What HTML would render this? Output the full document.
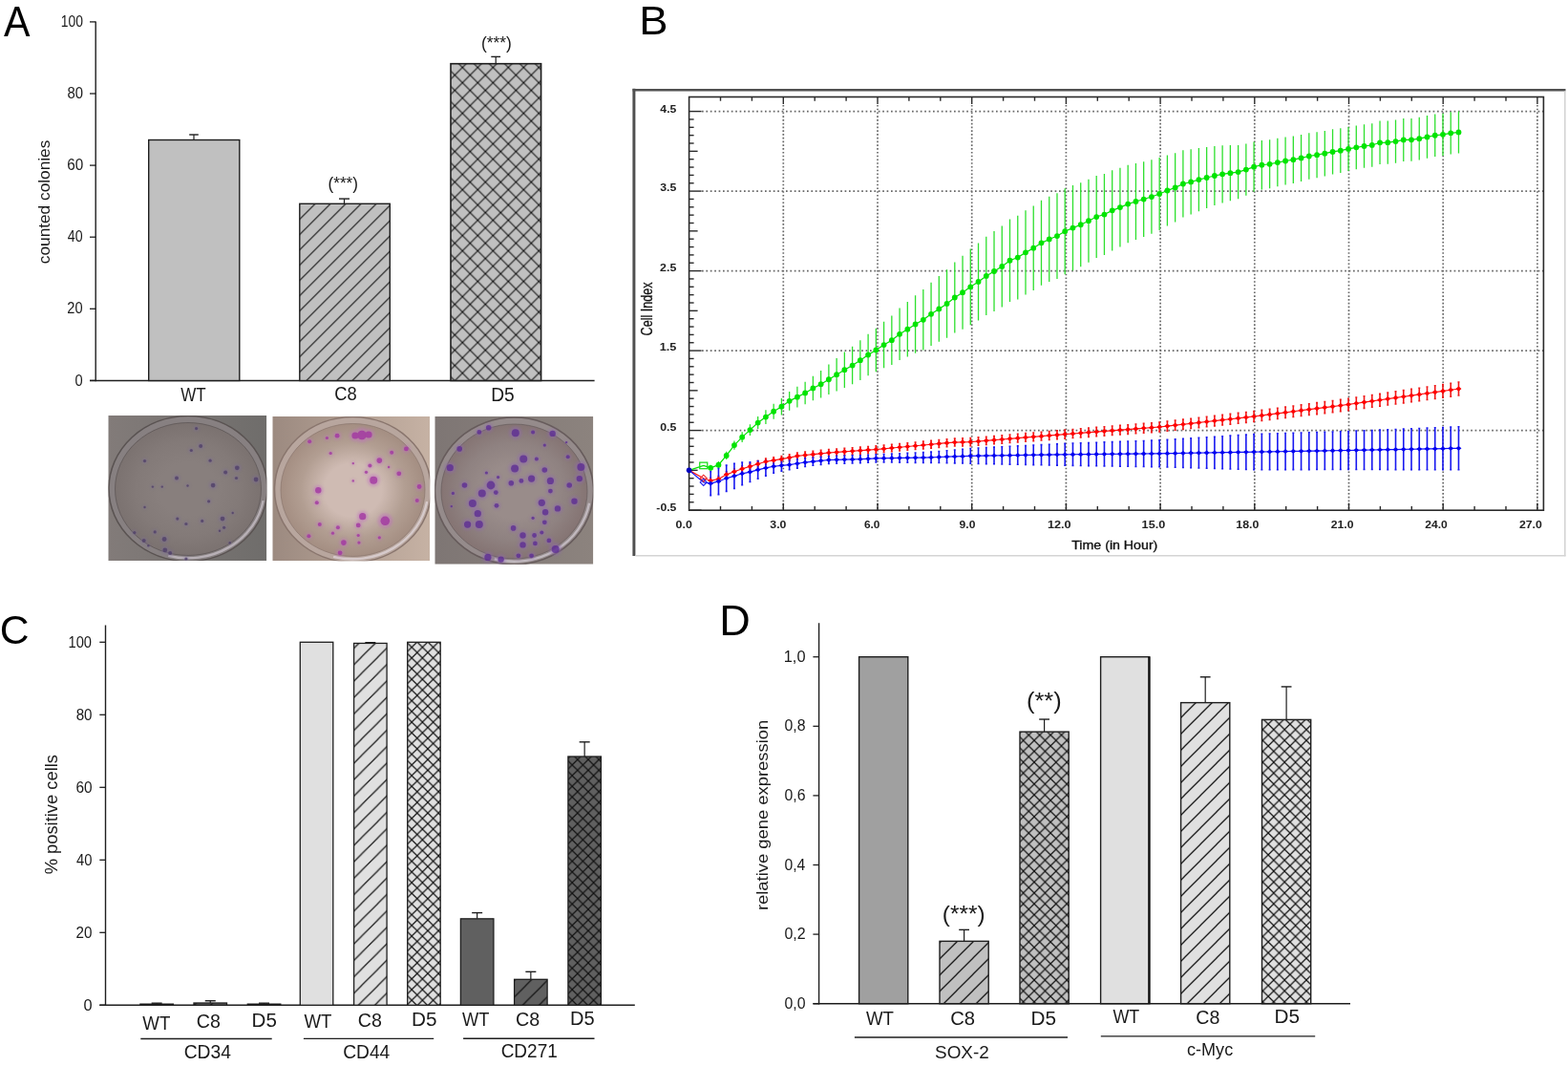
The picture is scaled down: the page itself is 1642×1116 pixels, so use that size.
<!DOCTYPE html>
<html><head><meta charset="utf-8"><title>Figure</title>
<style>html,body{margin:0;padding:0;background:#fff;}body{width:1642px;height:1116px;position:relative;overflow:hidden;}</style>
</head><body>
<svg width="1642" height="1116" viewBox="0 0 1642 1116" style="position:absolute;left:0;top:0">
<defs><pattern id="pA_h" patternUnits="userSpaceOnUse" width="16" height="16" patternTransform="translate(15.4 0)"><rect width="16" height="16" fill="#c0c0c0"/><path d="M-2 18 L18 -2 M-2 2 L2 -2 M14 18 L18 14" stroke="#111" stroke-width="1.1" fill="none"/></pattern><pattern id="pA_x" patternUnits="userSpaceOnUse" width="16" height="16" patternTransform="translate(12.3 -1.4)"><rect width="16" height="16" fill="#c0c0c0"/><path d="M-2 18 L18 -2 M-2 2 L2 -2 M14 18 L18 14" stroke="#111" stroke-width="1.1" fill="none"/><path d="M-2 -2 L18 18 M14 -2 L18 2 M-2 14 L2 18" stroke="#111" stroke-width="1.1" fill="none"/></pattern><pattern id="pC_hl" patternUnits="userSpaceOnUse" width="17.2" height="17.2" patternTransform="translate(0 0)"><rect width="17.2" height="17.2" fill="#e0e0e0"/><path d="M-2 19.2 L19.2 -2 M-2 2 L2 -2 M15.2 19.2 L19.2 15.2" stroke="#111" stroke-width="1.2" fill="none"/></pattern><pattern id="pC_xl" patternUnits="userSpaceOnUse" width="11.2" height="11.2" patternTransform="translate(0 0)"><rect width="11.2" height="11.2" fill="#e0e0e0"/><path d="M-2 13.2 L13.2 -2 M-2 2 L2 -2 M9.2 13.2 L13.2 9.2" stroke="#111" stroke-width="1.2" fill="none"/><path d="M-2 -2 L13.2 13.2 M9.2 -2 L13.2 2 M-2 9.2 L2 13.2" stroke="#111" stroke-width="1.2" fill="none"/></pattern><pattern id="pC_hd" patternUnits="userSpaceOnUse" width="17.2" height="17.2" patternTransform="translate(0 0)"><rect width="17.2" height="17.2" fill="#606060"/><path d="M-2 19.2 L19.2 -2 M-2 2 L2 -2 M15.2 19.2 L19.2 15.2" stroke="#111" stroke-width="1.2" fill="none"/></pattern><pattern id="pC_xd" patternUnits="userSpaceOnUse" width="11.2" height="11.2" patternTransform="translate(0 0)"><rect width="11.2" height="11.2" fill="#606060"/><path d="M-2 13.2 L13.2 -2 M-2 2 L2 -2 M9.2 13.2 L13.2 9.2" stroke="#111" stroke-width="1.2" fill="none"/><path d="M-2 -2 L13.2 13.2 M9.2 -2 L13.2 2 M-2 9.2 L2 13.2" stroke="#111" stroke-width="1.2" fill="none"/></pattern><pattern id="pD_hm" patternUnits="userSpaceOnUse" width="17" height="17" patternTransform="translate(15.9 0)"><rect width="17" height="17" fill="#c0c0c0"/><path d="M-2 19 L19 -2 M-2 2 L2 -2 M15 19 L19 15" stroke="#111" stroke-width="1.25" fill="none"/></pattern><pattern id="pD_xm" patternUnits="userSpaceOnUse" width="11.4" height="11.4" patternTransform="translate(0 0)"><rect width="11.4" height="11.4" fill="#c0c0c0"/><path d="M-2 13.4 L13.4 -2 M-2 2 L2 -2 M9.4 13.4 L13.4 9.4" stroke="#111" stroke-width="1.2" fill="none"/><path d="M-2 -2 L13.4 13.4 M9.4 -2 L13.4 2 M-2 9.4 L2 13.4" stroke="#111" stroke-width="1.2" fill="none"/></pattern><pattern id="pD_hl" patternUnits="userSpaceOnUse" width="17" height="17" patternTransform="translate(15.9 0)"><rect width="17" height="17" fill="#e0e0e0"/><path d="M-2 19 L19 -2 M-2 2 L2 -2 M15 19 L19 15" stroke="#111" stroke-width="1.25" fill="none"/></pattern><pattern id="pD_xl" patternUnits="userSpaceOnUse" width="11.4" height="11.4" patternTransform="translate(0 0)"><rect width="11.4" height="11.4" fill="#e0e0e0"/><path d="M-2 13.4 L13.4 -2 M-2 2 L2 -2 M9.4 13.4 L13.4 9.4" stroke="#111" stroke-width="1.2" fill="none"/><path d="M-2 -2 L13.4 13.4 M9.4 -2 L13.4 2 M-2 9.4 L2 13.4" stroke="#111" stroke-width="1.2" fill="none"/></pattern><filter id="blur1" x="-20%" y="-20%" width="140%" height="140%"><feGaussianBlur stdDeviation="0.7"/></filter><filter id="blur2" x="-20%" y="-20%" width="140%" height="140%"><feGaussianBlur stdDeviation="1.6"/></filter><clipPath id="clip1"><rect x="113.3" y="434.9" width="166" height="152.1"/></clipPath><radialGradient id="dish1" cx="50%" cy="50%" r="50%"><stop offset="0" stop-color="#887f7d"/><stop offset="0.4" stop-color="#887f7d"/><stop offset="0.72" stop-color="#837a78"/><stop offset="1" stop-color="#7b7270"/></radialGradient><linearGradient id="bgg1" x1="0" y1="0" x2="1" y2="0"><stop offset="0" stop-color="#827b79"/><stop offset="1" stop-color="#6f6d6b"/></linearGradient><clipPath id="clip2"><rect x="285.3" y="436" width="164.9" height="151.2"/></clipPath><radialGradient id="dish2" cx="50%" cy="50%" r="50%"><stop offset="0" stop-color="#cfbbb3"/><stop offset="0.4" stop-color="#cfbbb3"/><stop offset="0.72" stop-color="#b29e92"/><stop offset="1" stop-color="#a48e82"/></radialGradient><linearGradient id="bgg2" x1="0" y1="0" x2="1" y2="0"><stop offset="0" stop-color="#9c8a80"/><stop offset="1" stop-color="#c6b2a4"/></linearGradient><clipPath id="clip3"><rect x="455.3" y="436" width="166" height="154.7"/></clipPath><radialGradient id="dish3" cx="50%" cy="50%" r="50%"><stop offset="0" stop-color="#998c8a"/><stop offset="0.4" stop-color="#998c8a"/><stop offset="0.72" stop-color="#8f8281"/><stop offset="1" stop-color="#857473"/></radialGradient><linearGradient id="bgg3" x1="0" y1="0" x2="1" y2="0"><stop offset="0" stop-color="#7e7674"/><stop offset="1" stop-color="#8c837e"/></linearGradient></defs>
<rect width="1642" height="1116" fill="#ffffff"/>
<g clip-path="url(#clip1)"><rect x="113.3" y="434.9" width="166" height="152.1" fill="url(#bgg1)"/><ellipse cx="197" cy="511.5" rx="83" ry="76" fill="#878081" stroke="#5a5352" stroke-width="1.6"/><ellipse cx="197" cy="512" rx="76.5" ry="69.5" fill="url(#dish1)" stroke="#5a5352" stroke-width="1.0" stroke-opacity="0.7"/><path d="M275.59 524.14 A79.8 72.8 0 0 1 176.35 581.82" fill="none" stroke="#c8c0c8" stroke-width="2.4" opacity="0.75" filter="url(#blur1)"/><g fill="#7a6a98" opacity="0.5" filter="url(#blur2)"><circle cx="205.6" cy="448.6" r="2.6"/><circle cx="210.2" cy="466.9" r="3.25"/><circle cx="200.3" cy="471.5" r="2.6"/><circle cx="220.1" cy="482.2" r="2.6"/><circle cx="151.5" cy="482.6" r="2.6"/><circle cx="185" cy="500.5" r="3.25"/><circle cx="159.9" cy="509.6" r="1.95"/><circle cx="169.8" cy="509.6" r="1.95"/><circle cx="196.5" cy="508.5" r="1.95"/><circle cx="223.1" cy="508.1" r="3.9"/><circle cx="236.1" cy="494.4" r="3.25"/><circle cx="248.3" cy="489.8" r="3.9"/><circle cx="247.5" cy="500.5" r="2.6"/><circle cx="268.1" cy="502" r="3.9"/><circle cx="218.6" cy="524.8" r="2.6"/><circle cx="151.5" cy="531" r="1.95"/><circle cx="185.8" cy="543.1" r="2.6"/><circle cx="194.9" cy="548.5" r="2.6"/><circle cx="211.7" cy="545.4" r="2.6"/><circle cx="233" cy="543.1" r="3.9"/><circle cx="234.6" cy="552.3" r="2.6"/><circle cx="230" cy="555.8" r="1.95"/><circle cx="243.7" cy="537" r="1.95"/><circle cx="162.2" cy="556.9" r="2.6"/><circle cx="140.8" cy="557.6" r="2.6"/><circle cx="150.7" cy="566" r="3.25"/><circle cx="172.1" cy="564.5" r="3.9"/><circle cx="172.8" cy="575.9" r="3.9"/><circle cx="178.2" cy="579" r="3.25"/><circle cx="194.9" cy="585" r="2.6"/><circle cx="155.3" cy="571.3" r="1.95"/><circle cx="240.7" cy="568.3" r="1.95"/></g><g fill="#4e3e66" opacity="0.75" filter="url(#blur1)"><circle cx="205.6" cy="448.6" r="1.6"/><circle cx="210.2" cy="466.9" r="2"/><circle cx="200.3" cy="471.5" r="1.6"/><circle cx="220.1" cy="482.2" r="1.6"/><circle cx="151.5" cy="482.6" r="1.6"/><circle cx="185" cy="500.5" r="2"/><circle cx="159.9" cy="509.6" r="1.2"/><circle cx="169.8" cy="509.6" r="1.2"/><circle cx="196.5" cy="508.5" r="1.2"/><circle cx="223.1" cy="508.1" r="2.4"/><circle cx="236.1" cy="494.4" r="2"/><circle cx="248.3" cy="489.8" r="2.4"/><circle cx="247.5" cy="500.5" r="1.6"/><circle cx="268.1" cy="502" r="2.4"/><circle cx="218.6" cy="524.8" r="1.6"/><circle cx="151.5" cy="531" r="1.2"/><circle cx="185.8" cy="543.1" r="1.6"/><circle cx="194.9" cy="548.5" r="1.6"/><circle cx="211.7" cy="545.4" r="1.6"/><circle cx="233" cy="543.1" r="2.4"/><circle cx="234.6" cy="552.3" r="1.6"/><circle cx="230" cy="555.8" r="1.2"/><circle cx="243.7" cy="537" r="1.2"/><circle cx="162.2" cy="556.9" r="1.6"/><circle cx="140.8" cy="557.6" r="1.6"/><circle cx="150.7" cy="566" r="2"/><circle cx="172.1" cy="564.5" r="2.4"/><circle cx="172.8" cy="575.9" r="2.4"/><circle cx="178.2" cy="579" r="2"/><circle cx="194.9" cy="585" r="1.6"/><circle cx="155.3" cy="571.3" r="1.2"/><circle cx="240.7" cy="568.3" r="1.2"/></g></g><g clip-path="url(#clip2)"><rect x="285.3" y="436" width="164.9" height="151.2" fill="url(#bgg2)"/><ellipse cx="369.5" cy="512.5" rx="82" ry="76" fill="#b8a69e" stroke="#8a766e" stroke-width="1.6"/><ellipse cx="369.5" cy="513" rx="75.5" ry="69.5" fill="url(#dish2)" stroke="#8a766e" stroke-width="1.0" stroke-opacity="0.7"/><path d="M447.1 525.14 A78.8 72.8 0 0 1 349.11 582.82" fill="none" stroke="#e0d6da" stroke-width="2.4" opacity="0.75" filter="url(#blur1)"/><g fill="#c070c0" opacity="0.5" filter="url(#blur2)"><circle cx="353.1" cy="456.2" r="3.9"/><circle cx="342.4" cy="458.5" r="2.6"/><circle cx="324.2" cy="462.3" r="3.25"/><circle cx="410.2" cy="473.7" r="3.25"/><circle cx="397.3" cy="482.1" r="4.55"/><circle cx="387.4" cy="487.4" r="3.25"/><circle cx="383.5" cy="494.3" r="2.6"/><circle cx="391.2" cy="502.7" r="6.5"/><circle cx="417.8" cy="495.8" r="3.9"/><circle cx="407.1" cy="489" r="1.95"/><circle cx="425.4" cy="469.9" r="3.9"/><circle cx="439.1" cy="509.5" r="3.9"/><circle cx="436.8" cy="524" r="3.25"/><circle cx="333.3" cy="513.3" r="5.2"/><circle cx="331.8" cy="526.3" r="3.25"/><circle cx="369.8" cy="485.1" r="1.95"/><circle cx="369.8" cy="503.4" r="1.95"/><circle cx="346.2" cy="474.5" r="2.6"/><circle cx="379.7" cy="540.7" r="5.85"/><circle cx="403.3" cy="545.3" r="7.8"/><circle cx="375.2" cy="549.9" r="3.9"/><circle cx="334.8" cy="549.1" r="3.25"/><circle cx="353.9" cy="552.2" r="3.25"/><circle cx="348.5" cy="558.2" r="2.6"/><circle cx="375.2" cy="560.5" r="2.6"/><circle cx="375.9" cy="568.1" r="2.6"/><circle cx="359.9" cy="568.1" r="4.55"/><circle cx="356.1" cy="578.8" r="3.9"/><circle cx="397.3" cy="562.8" r="2.6"/><circle cx="323.4" cy="561.3" r="3.25"/><circle cx="379" cy="455.5" r="7.8"/><circle cx="372" cy="456" r="5.85"/><circle cx="386" cy="455" r="5.85"/></g><g fill="#a030a0" opacity="0.75" filter="url(#blur1)"><circle cx="353.1" cy="456.2" r="2.4"/><circle cx="342.4" cy="458.5" r="1.6"/><circle cx="324.2" cy="462.3" r="2"/><circle cx="410.2" cy="473.7" r="2"/><circle cx="397.3" cy="482.1" r="2.8"/><circle cx="387.4" cy="487.4" r="2"/><circle cx="383.5" cy="494.3" r="1.6"/><circle cx="391.2" cy="502.7" r="4"/><circle cx="417.8" cy="495.8" r="2.4"/><circle cx="407.1" cy="489" r="1.2"/><circle cx="425.4" cy="469.9" r="2.4"/><circle cx="439.1" cy="509.5" r="2.4"/><circle cx="436.8" cy="524" r="2"/><circle cx="333.3" cy="513.3" r="3.2"/><circle cx="331.8" cy="526.3" r="2"/><circle cx="369.8" cy="485.1" r="1.2"/><circle cx="369.8" cy="503.4" r="1.2"/><circle cx="346.2" cy="474.5" r="1.6"/><circle cx="379.7" cy="540.7" r="3.6"/><circle cx="403.3" cy="545.3" r="4.8"/><circle cx="375.2" cy="549.9" r="2.4"/><circle cx="334.8" cy="549.1" r="2"/><circle cx="353.9" cy="552.2" r="2"/><circle cx="348.5" cy="558.2" r="1.6"/><circle cx="375.2" cy="560.5" r="1.6"/><circle cx="375.9" cy="568.1" r="1.6"/><circle cx="359.9" cy="568.1" r="2.8"/><circle cx="356.1" cy="578.8" r="2.4"/><circle cx="397.3" cy="562.8" r="1.6"/><circle cx="323.4" cy="561.3" r="2"/><circle cx="379" cy="455.5" r="4.8"/><circle cx="372" cy="456" r="3.6"/><circle cx="386" cy="455" r="3.6"/></g></g><g clip-path="url(#clip3)"><rect x="455.3" y="436" width="166" height="154.7" fill="url(#bgg3)"/><ellipse cx="538.5" cy="514" rx="83" ry="77" fill="#958b8b" stroke="#675c5c" stroke-width="1.6"/><ellipse cx="538.5" cy="514.5" rx="76.5" ry="70.5" fill="url(#dish3)" stroke="#675c5c" stroke-width="1.0" stroke-opacity="0.7"/><path d="M617.09 526.82 A79.8 73.8 0 0 1 517.85 585.29" fill="none" stroke="#d0c8d0" stroke-width="2.4" opacity="0.75" filter="url(#blur1)"/><g fill="#9068b0" opacity="0.5" filter="url(#blur2)"><circle cx="511.7" cy="447.8" r="4.55"/><circle cx="501.8" cy="452.4" r="3.9"/><circle cx="539.8" cy="453.2" r="6.5"/><circle cx="558.1" cy="452.4" r="3.25"/><circle cx="578.7" cy="453.9" r="5.2"/><circle cx="481.2" cy="469.9" r="4.55"/><circle cx="570.3" cy="466.1" r="2.6"/><circle cx="593.1" cy="463.1" r="1.95"/><circle cx="594.7" cy="478.3" r="3.25"/><circle cx="548.2" cy="480.6" r="6.5"/><circle cx="561.9" cy="480.6" r="3.25"/><circle cx="539.1" cy="490.5" r="6.5"/><circle cx="570.3" cy="492" r="4.55"/><circle cx="471.3" cy="489.7" r="5.85"/><circle cx="608.4" cy="489" r="6.5"/><circle cx="606.8" cy="501.1" r="5.2"/><circle cx="556.6" cy="501.1" r="5.85"/><circle cx="545.9" cy="503.4" r="3.9"/><circle cx="535.3" cy="505.7" r="4.55"/><circle cx="576.4" cy="503.4" r="5.85"/><circle cx="514" cy="508" r="7.15"/><circle cx="486.5" cy="508" r="4.55"/><circle cx="504.8" cy="516.4" r="6.5"/><circle cx="519.3" cy="515.6" r="3.9"/><circle cx="596.2" cy="508" r="4.55"/><circle cx="576.4" cy="514.1" r="3.9"/><circle cx="494.9" cy="527" r="6.5"/><circle cx="520" cy="529.3" r="3.9"/><circle cx="567.3" cy="526.3" r="5.85"/><circle cx="584" cy="532.4" r="5.2"/><circle cx="601.5" cy="524.7" r="5.2"/><circle cx="500.3" cy="537.7" r="5.85"/><circle cx="571.1" cy="536.2" r="5.2"/><circle cx="489.6" cy="549.1" r="5.85"/><circle cx="501.8" cy="549.1" r="6.5"/><circle cx="537.6" cy="552.9" r="4.55"/><circle cx="570.3" cy="546.8" r="3.9"/><circle cx="547.5" cy="560.5" r="5.2"/><circle cx="559.6" cy="560.5" r="3.9"/><circle cx="567.3" cy="557.5" r="3.25"/><circle cx="547.5" cy="570.4" r="5.2"/><circle cx="560.4" cy="568.9" r="3.9"/><circle cx="574.9" cy="565.9" r="3.9"/><circle cx="581.7" cy="575" r="6.5"/><circle cx="510.9" cy="583.4" r="5.85"/><circle cx="524.6" cy="585.6" r="5.2"/><circle cx="542.9" cy="581.8" r="3.9"/><circle cx="556.6" cy="581.8" r="3.9"/><circle cx="474.4" cy="516.4" r="2.6"/><circle cx="472.8" cy="530.1" r="1.95"/><circle cx="509.4" cy="495" r="2.6"/><circle cx="521.6" cy="499.6" r="2.6"/><circle cx="558.1" cy="542.3" r="2.6"/></g><g fill="#5a2a92" opacity="0.75" filter="url(#blur1)"><circle cx="511.7" cy="447.8" r="2.8"/><circle cx="501.8" cy="452.4" r="2.4"/><circle cx="539.8" cy="453.2" r="4"/><circle cx="558.1" cy="452.4" r="2"/><circle cx="578.7" cy="453.9" r="3.2"/><circle cx="481.2" cy="469.9" r="2.8"/><circle cx="570.3" cy="466.1" r="1.6"/><circle cx="593.1" cy="463.1" r="1.2"/><circle cx="594.7" cy="478.3" r="2"/><circle cx="548.2" cy="480.6" r="4"/><circle cx="561.9" cy="480.6" r="2"/><circle cx="539.1" cy="490.5" r="4"/><circle cx="570.3" cy="492" r="2.8"/><circle cx="471.3" cy="489.7" r="3.6"/><circle cx="608.4" cy="489" r="4"/><circle cx="606.8" cy="501.1" r="3.2"/><circle cx="556.6" cy="501.1" r="3.6"/><circle cx="545.9" cy="503.4" r="2.4"/><circle cx="535.3" cy="505.7" r="2.8"/><circle cx="576.4" cy="503.4" r="3.6"/><circle cx="514" cy="508" r="4.4"/><circle cx="486.5" cy="508" r="2.8"/><circle cx="504.8" cy="516.4" r="4"/><circle cx="519.3" cy="515.6" r="2.4"/><circle cx="596.2" cy="508" r="2.8"/><circle cx="576.4" cy="514.1" r="2.4"/><circle cx="494.9" cy="527" r="4"/><circle cx="520" cy="529.3" r="2.4"/><circle cx="567.3" cy="526.3" r="3.6"/><circle cx="584" cy="532.4" r="3.2"/><circle cx="601.5" cy="524.7" r="3.2"/><circle cx="500.3" cy="537.7" r="3.6"/><circle cx="571.1" cy="536.2" r="3.2"/><circle cx="489.6" cy="549.1" r="3.6"/><circle cx="501.8" cy="549.1" r="4"/><circle cx="537.6" cy="552.9" r="2.8"/><circle cx="570.3" cy="546.8" r="2.4"/><circle cx="547.5" cy="560.5" r="3.2"/><circle cx="559.6" cy="560.5" r="2.4"/><circle cx="567.3" cy="557.5" r="2"/><circle cx="547.5" cy="570.4" r="3.2"/><circle cx="560.4" cy="568.9" r="2.4"/><circle cx="574.9" cy="565.9" r="2.4"/><circle cx="581.7" cy="575" r="4"/><circle cx="510.9" cy="583.4" r="3.6"/><circle cx="524.6" cy="585.6" r="3.2"/><circle cx="542.9" cy="581.8" r="2.4"/><circle cx="556.6" cy="581.8" r="2.4"/><circle cx="474.4" cy="516.4" r="1.6"/><circle cx="472.8" cy="530.1" r="1.2"/><circle cx="509.4" cy="495" r="1.6"/><circle cx="521.6" cy="499.6" r="1.6"/><circle cx="558.1" cy="542.3" r="1.6"/></g></g>
<line x1="100.2" y1="22.4" x2="100.2" y2="399.2" stroke="#1e1e1e" stroke-width="1.4"/><line x1="94" y1="398.5" x2="622.6" y2="398.5" stroke="#1e1e1e" stroke-width="1.4"/><line x1="94" y1="398.4" x2="100.2" y2="398.4" stroke="#1e1e1e" stroke-width="1.3"/><line x1="94" y1="323.3" x2="100.2" y2="323.3" stroke="#1e1e1e" stroke-width="1.3"/><line x1="94" y1="248.2" x2="100.2" y2="248.2" stroke="#1e1e1e" stroke-width="1.3"/><line x1="94" y1="173.1" x2="100.2" y2="173.1" stroke="#1e1e1e" stroke-width="1.3"/><line x1="94" y1="98" x2="100.2" y2="98" stroke="#1e1e1e" stroke-width="1.3"/><line x1="94" y1="22.9" x2="100.2" y2="22.9" stroke="#1e1e1e" stroke-width="1.3"/><line x1="203" y1="146.5" x2="203" y2="141" stroke="#1e1e1e" stroke-width="1.2"/><line x1="198.2" y1="141" x2="207.8" y2="141" stroke="#1e1e1e" stroke-width="1.4"/><rect x="155.7" y="146.5" width="95.1" height="252" fill="#c0c0c0" stroke="#1e1e1e" stroke-width="1.4"/><line x1="360.5" y1="213.3" x2="360.5" y2="208.1" stroke="#1e1e1e" stroke-width="1.2"/><line x1="355" y1="208.1" x2="366" y2="208.1" stroke="#1e1e1e" stroke-width="1.4"/><rect x="313.8" y="213.3" width="94.5" height="185.2" fill="url(#pA_h)" stroke="#1e1e1e" stroke-width="1.4"/><line x1="519.2" y1="66.7" x2="519.2" y2="59.4" stroke="#1e1e1e" stroke-width="1.2"/><line x1="514.3" y1="59.4" x2="524.1" y2="59.4" stroke="#1e1e1e" stroke-width="1.4"/><rect x="472" y="66.7" width="94.6" height="331.8" fill="url(#pA_x)" stroke="#1e1e1e" stroke-width="1.6"/><line x1="663.9" y1="92.8" x2="663.9" y2="582" stroke="#505050" stroke-width="3"/><line x1="662.5" y1="94.3" x2="1639.5" y2="94.3" stroke="#505050" stroke-width="2.6"/><line x1="1638.8" y1="95.5" x2="1638.8" y2="582.3" stroke="#d4d4d4" stroke-width="1.6"/><line x1="665.4" y1="581.8" x2="1639.5" y2="581.8" stroke="#d4d4d4" stroke-width="1.6"/><line x1="735" y1="116.6" x2="1616" y2="116.6" stroke="#686868" stroke-width="1.7" stroke-dasharray="1.7 2.7"/><line x1="735" y1="200.1" x2="1616" y2="200.1" stroke="#686868" stroke-width="1.7" stroke-dasharray="1.7 2.7"/><line x1="735" y1="283.6" x2="1616" y2="283.6" stroke="#686868" stroke-width="1.7" stroke-dasharray="1.7 2.7"/><line x1="735" y1="367.1" x2="1616" y2="367.1" stroke="#686868" stroke-width="1.7" stroke-dasharray="1.7 2.7"/><line x1="735" y1="450.6" x2="1616" y2="450.6" stroke="#686868" stroke-width="1.7" stroke-dasharray="1.7 2.7"/><line x1="820.3" y1="110" x2="820.3" y2="533.5" stroke="#686868" stroke-width="1.7" stroke-dasharray="1.6 2.16"/><line x1="919" y1="110" x2="919" y2="533.5" stroke="#686868" stroke-width="1.7" stroke-dasharray="1.6 2.16"/><line x1="1017.7" y1="110" x2="1017.7" y2="533.5" stroke="#686868" stroke-width="1.7" stroke-dasharray="1.6 2.16"/><line x1="1116.4" y1="110" x2="1116.4" y2="533.5" stroke="#686868" stroke-width="1.7" stroke-dasharray="1.6 2.16"/><line x1="1215.1" y1="110" x2="1215.1" y2="533.5" stroke="#686868" stroke-width="1.7" stroke-dasharray="1.6 2.16"/><line x1="1313.8" y1="110" x2="1313.8" y2="533.5" stroke="#686868" stroke-width="1.7" stroke-dasharray="1.6 2.16"/><line x1="1412.5" y1="110" x2="1412.5" y2="533.5" stroke="#686868" stroke-width="1.7" stroke-dasharray="1.6 2.16"/><line x1="1511.2" y1="110" x2="1511.2" y2="533.5" stroke="#686868" stroke-width="1.7" stroke-dasharray="1.6 2.16"/><line x1="1609.9" y1="110" x2="1609.9" y2="533.5" stroke="#686868" stroke-width="1.7" stroke-dasharray="1.6 2.16"/><line x1="721.6" y1="534.1" x2="734.6" y2="534.1" stroke="#2a2a2a" stroke-width="1.4"/><line x1="721.6" y1="525.75" x2="726.6" y2="525.75" stroke="#2a2a2a" stroke-width="1.4"/><line x1="721.6" y1="517.4" x2="726.6" y2="517.4" stroke="#2a2a2a" stroke-width="1.4"/><line x1="721.6" y1="509.05" x2="726.6" y2="509.05" stroke="#2a2a2a" stroke-width="1.4"/><line x1="721.6" y1="500.7" x2="726.6" y2="500.7" stroke="#2a2a2a" stroke-width="1.4"/><line x1="721.6" y1="492.35" x2="730.6" y2="492.35" stroke="#2a2a2a" stroke-width="1.4"/><line x1="721.6" y1="484" x2="726.6" y2="484" stroke="#2a2a2a" stroke-width="1.4"/><line x1="721.6" y1="475.65" x2="726.6" y2="475.65" stroke="#2a2a2a" stroke-width="1.4"/><line x1="721.6" y1="467.3" x2="726.6" y2="467.3" stroke="#2a2a2a" stroke-width="1.4"/><line x1="721.6" y1="458.95" x2="726.6" y2="458.95" stroke="#2a2a2a" stroke-width="1.4"/><line x1="721.6" y1="450.6" x2="734.6" y2="450.6" stroke="#2a2a2a" stroke-width="1.4"/><line x1="721.6" y1="442.25" x2="726.6" y2="442.25" stroke="#2a2a2a" stroke-width="1.4"/><line x1="721.6" y1="433.9" x2="726.6" y2="433.9" stroke="#2a2a2a" stroke-width="1.4"/><line x1="721.6" y1="425.55" x2="726.6" y2="425.55" stroke="#2a2a2a" stroke-width="1.4"/><line x1="721.6" y1="417.2" x2="726.6" y2="417.2" stroke="#2a2a2a" stroke-width="1.4"/><line x1="721.6" y1="408.85" x2="730.6" y2="408.85" stroke="#2a2a2a" stroke-width="1.4"/><line x1="721.6" y1="400.5" x2="726.6" y2="400.5" stroke="#2a2a2a" stroke-width="1.4"/><line x1="721.6" y1="392.15" x2="726.6" y2="392.15" stroke="#2a2a2a" stroke-width="1.4"/><line x1="721.6" y1="383.8" x2="726.6" y2="383.8" stroke="#2a2a2a" stroke-width="1.4"/><line x1="721.6" y1="375.45" x2="726.6" y2="375.45" stroke="#2a2a2a" stroke-width="1.4"/><line x1="721.6" y1="367.1" x2="734.6" y2="367.1" stroke="#2a2a2a" stroke-width="1.4"/><line x1="721.6" y1="358.75" x2="726.6" y2="358.75" stroke="#2a2a2a" stroke-width="1.4"/><line x1="721.6" y1="350.4" x2="726.6" y2="350.4" stroke="#2a2a2a" stroke-width="1.4"/><line x1="721.6" y1="342.05" x2="726.6" y2="342.05" stroke="#2a2a2a" stroke-width="1.4"/><line x1="721.6" y1="333.7" x2="726.6" y2="333.7" stroke="#2a2a2a" stroke-width="1.4"/><line x1="721.6" y1="325.35" x2="730.6" y2="325.35" stroke="#2a2a2a" stroke-width="1.4"/><line x1="721.6" y1="317" x2="726.6" y2="317" stroke="#2a2a2a" stroke-width="1.4"/><line x1="721.6" y1="308.65" x2="726.6" y2="308.65" stroke="#2a2a2a" stroke-width="1.4"/><line x1="721.6" y1="300.3" x2="726.6" y2="300.3" stroke="#2a2a2a" stroke-width="1.4"/><line x1="721.6" y1="291.95" x2="726.6" y2="291.95" stroke="#2a2a2a" stroke-width="1.4"/><line x1="721.6" y1="283.6" x2="734.6" y2="283.6" stroke="#2a2a2a" stroke-width="1.4"/><line x1="721.6" y1="275.25" x2="726.6" y2="275.25" stroke="#2a2a2a" stroke-width="1.4"/><line x1="721.6" y1="266.9" x2="726.6" y2="266.9" stroke="#2a2a2a" stroke-width="1.4"/><line x1="721.6" y1="258.55" x2="726.6" y2="258.55" stroke="#2a2a2a" stroke-width="1.4"/><line x1="721.6" y1="250.2" x2="726.6" y2="250.2" stroke="#2a2a2a" stroke-width="1.4"/><line x1="721.6" y1="241.85" x2="730.6" y2="241.85" stroke="#2a2a2a" stroke-width="1.4"/><line x1="721.6" y1="233.5" x2="726.6" y2="233.5" stroke="#2a2a2a" stroke-width="1.4"/><line x1="721.6" y1="225.15" x2="726.6" y2="225.15" stroke="#2a2a2a" stroke-width="1.4"/><line x1="721.6" y1="216.8" x2="726.6" y2="216.8" stroke="#2a2a2a" stroke-width="1.4"/><line x1="721.6" y1="208.45" x2="726.6" y2="208.45" stroke="#2a2a2a" stroke-width="1.4"/><line x1="721.6" y1="200.1" x2="734.6" y2="200.1" stroke="#2a2a2a" stroke-width="1.4"/><line x1="721.6" y1="191.75" x2="726.6" y2="191.75" stroke="#2a2a2a" stroke-width="1.4"/><line x1="721.6" y1="183.4" x2="726.6" y2="183.4" stroke="#2a2a2a" stroke-width="1.4"/><line x1="721.6" y1="175.05" x2="726.6" y2="175.05" stroke="#2a2a2a" stroke-width="1.4"/><line x1="721.6" y1="166.7" x2="726.6" y2="166.7" stroke="#2a2a2a" stroke-width="1.4"/><line x1="721.6" y1="158.35" x2="730.6" y2="158.35" stroke="#2a2a2a" stroke-width="1.4"/><line x1="721.6" y1="150" x2="726.6" y2="150" stroke="#2a2a2a" stroke-width="1.4"/><line x1="721.6" y1="141.65" x2="726.6" y2="141.65" stroke="#2a2a2a" stroke-width="1.4"/><line x1="721.6" y1="133.3" x2="726.6" y2="133.3" stroke="#2a2a2a" stroke-width="1.4"/><line x1="721.6" y1="124.95" x2="726.6" y2="124.95" stroke="#2a2a2a" stroke-width="1.4"/><line x1="721.6" y1="116.6" x2="734.6" y2="116.6" stroke="#2a2a2a" stroke-width="1.4"/><line x1="754.5" y1="534.2" x2="754.5" y2="530" stroke="#2a2a2a" stroke-width="1.4"/><line x1="754.5" y1="101.5" x2="754.5" y2="105.7" stroke="#2a2a2a" stroke-width="1.4"/><line x1="787.4" y1="534.2" x2="787.4" y2="530" stroke="#2a2a2a" stroke-width="1.4"/><line x1="787.4" y1="101.5" x2="787.4" y2="105.7" stroke="#2a2a2a" stroke-width="1.4"/><line x1="820.3" y1="534.2" x2="820.3" y2="526.7" stroke="#2a2a2a" stroke-width="1.4"/><line x1="820.3" y1="101.5" x2="820.3" y2="109" stroke="#2a2a2a" stroke-width="1.4"/><line x1="853.2" y1="534.2" x2="853.2" y2="530" stroke="#2a2a2a" stroke-width="1.4"/><line x1="853.2" y1="101.5" x2="853.2" y2="105.7" stroke="#2a2a2a" stroke-width="1.4"/><line x1="886.1" y1="534.2" x2="886.1" y2="530" stroke="#2a2a2a" stroke-width="1.4"/><line x1="886.1" y1="101.5" x2="886.1" y2="105.7" stroke="#2a2a2a" stroke-width="1.4"/><line x1="919" y1="534.2" x2="919" y2="526.7" stroke="#2a2a2a" stroke-width="1.4"/><line x1="919" y1="101.5" x2="919" y2="109" stroke="#2a2a2a" stroke-width="1.4"/><line x1="951.9" y1="534.2" x2="951.9" y2="530" stroke="#2a2a2a" stroke-width="1.4"/><line x1="951.9" y1="101.5" x2="951.9" y2="105.7" stroke="#2a2a2a" stroke-width="1.4"/><line x1="984.8" y1="534.2" x2="984.8" y2="530" stroke="#2a2a2a" stroke-width="1.4"/><line x1="984.8" y1="101.5" x2="984.8" y2="105.7" stroke="#2a2a2a" stroke-width="1.4"/><line x1="1017.7" y1="534.2" x2="1017.7" y2="526.7" stroke="#2a2a2a" stroke-width="1.4"/><line x1="1017.7" y1="101.5" x2="1017.7" y2="109" stroke="#2a2a2a" stroke-width="1.4"/><line x1="1050.6" y1="534.2" x2="1050.6" y2="530" stroke="#2a2a2a" stroke-width="1.4"/><line x1="1050.6" y1="101.5" x2="1050.6" y2="105.7" stroke="#2a2a2a" stroke-width="1.4"/><line x1="1083.5" y1="534.2" x2="1083.5" y2="530" stroke="#2a2a2a" stroke-width="1.4"/><line x1="1083.5" y1="101.5" x2="1083.5" y2="105.7" stroke="#2a2a2a" stroke-width="1.4"/><line x1="1116.4" y1="534.2" x2="1116.4" y2="526.7" stroke="#2a2a2a" stroke-width="1.4"/><line x1="1116.4" y1="101.5" x2="1116.4" y2="109" stroke="#2a2a2a" stroke-width="1.4"/><line x1="1149.3" y1="534.2" x2="1149.3" y2="530" stroke="#2a2a2a" stroke-width="1.4"/><line x1="1149.3" y1="101.5" x2="1149.3" y2="105.7" stroke="#2a2a2a" stroke-width="1.4"/><line x1="1182.2" y1="534.2" x2="1182.2" y2="530" stroke="#2a2a2a" stroke-width="1.4"/><line x1="1182.2" y1="101.5" x2="1182.2" y2="105.7" stroke="#2a2a2a" stroke-width="1.4"/><line x1="1215.1" y1="534.2" x2="1215.1" y2="526.7" stroke="#2a2a2a" stroke-width="1.4"/><line x1="1215.1" y1="101.5" x2="1215.1" y2="109" stroke="#2a2a2a" stroke-width="1.4"/><line x1="1248" y1="534.2" x2="1248" y2="530" stroke="#2a2a2a" stroke-width="1.4"/><line x1="1248" y1="101.5" x2="1248" y2="105.7" stroke="#2a2a2a" stroke-width="1.4"/><line x1="1280.9" y1="534.2" x2="1280.9" y2="530" stroke="#2a2a2a" stroke-width="1.4"/><line x1="1280.9" y1="101.5" x2="1280.9" y2="105.7" stroke="#2a2a2a" stroke-width="1.4"/><line x1="1313.8" y1="534.2" x2="1313.8" y2="526.7" stroke="#2a2a2a" stroke-width="1.4"/><line x1="1313.8" y1="101.5" x2="1313.8" y2="109" stroke="#2a2a2a" stroke-width="1.4"/><line x1="1346.7" y1="534.2" x2="1346.7" y2="530" stroke="#2a2a2a" stroke-width="1.4"/><line x1="1346.7" y1="101.5" x2="1346.7" y2="105.7" stroke="#2a2a2a" stroke-width="1.4"/><line x1="1379.6" y1="534.2" x2="1379.6" y2="530" stroke="#2a2a2a" stroke-width="1.4"/><line x1="1379.6" y1="101.5" x2="1379.6" y2="105.7" stroke="#2a2a2a" stroke-width="1.4"/><line x1="1412.5" y1="534.2" x2="1412.5" y2="526.7" stroke="#2a2a2a" stroke-width="1.4"/><line x1="1412.5" y1="101.5" x2="1412.5" y2="109" stroke="#2a2a2a" stroke-width="1.4"/><line x1="1445.4" y1="534.2" x2="1445.4" y2="530" stroke="#2a2a2a" stroke-width="1.4"/><line x1="1445.4" y1="101.5" x2="1445.4" y2="105.7" stroke="#2a2a2a" stroke-width="1.4"/><line x1="1478.3" y1="534.2" x2="1478.3" y2="530" stroke="#2a2a2a" stroke-width="1.4"/><line x1="1478.3" y1="101.5" x2="1478.3" y2="105.7" stroke="#2a2a2a" stroke-width="1.4"/><line x1="1511.2" y1="534.2" x2="1511.2" y2="526.7" stroke="#2a2a2a" stroke-width="1.4"/><line x1="1511.2" y1="101.5" x2="1511.2" y2="109" stroke="#2a2a2a" stroke-width="1.4"/><line x1="1544.1" y1="534.2" x2="1544.1" y2="530" stroke="#2a2a2a" stroke-width="1.4"/><line x1="1544.1" y1="101.5" x2="1544.1" y2="105.7" stroke="#2a2a2a" stroke-width="1.4"/><line x1="1577" y1="534.2" x2="1577" y2="530" stroke="#2a2a2a" stroke-width="1.4"/><line x1="1577" y1="101.5" x2="1577" y2="105.7" stroke="#2a2a2a" stroke-width="1.4"/><line x1="1609.9" y1="534.2" x2="1609.9" y2="526.7" stroke="#2a2a2a" stroke-width="1.4"/><line x1="1609.9" y1="101.5" x2="1609.9" y2="109" stroke="#2a2a2a" stroke-width="1.4"/><rect x="721.6" y="101.5" width="894.8" height="432.7" fill="none" stroke="#2a2a2a" stroke-width="1.6"/><path d="M744.2 486.85V492.85M752.45 483.12V490.22M760.69 472.83V481.09M768.94 461.41V470.82M777.18 452.35V462.92M785.43 444.21V455.93M793.67 435.96V449.1M801.92 429.29V443.93M810.16 422.68V438.83M818.41 416.88V434.53M826.65 410.1V429.64M834.89 404.86V426.41M843.14 399.67V423.23M851.38 393.67V419.23M859.63 388.07V416.42M867.88 381.56V412.92M876.12 375.04V409.4M884.37 368.51V405.88M892.61 362.75V402.33M900.86 356.36V397.95M909.1 349.72V393.32M917.35 343.67V389.27M925.59 336.86V385.26M933.84 330.49V381.9M942.08 322.58V377M950.33 316V373.43M958.57 309.28V369.71M966.82 303.12V366.56M975.06 295.75V361.93M983.31 288.97V357.82M991.55 282.18V353.7M999.8 274.42V348.62M1008.04 267.79V344.65M1016.29 260.6V340.14M1024.53 254.39V335.49M1032.78 247.68V330.12M1041.02 242.12V325.9M1049.27 236.44V321.56M1057.51 229.52V315.97M1065.76 225.63V313.42M1074 220.23V308.51M1082.24 215.41V304.03M1090.49 209.86V298.81M1098.74 205.82V295.1M1106.98 202.27V291.89M1115.22 197.19V287.14M1123.47 194.01V283.15M1131.72 191.16V279.3M1139.96 187.65V274.79M1148.2 183.98V270.11M1156.45 181.97V267.1M1164.69 178.29V262.41M1172.94 175.66V258.49M1181.18 172.86V254.36M1189.43 170.88V251.04M1197.67 169.13V247.96M1205.92 167.29V244.78M1214.16 164.88V241.03M1222.41 162.4V236.62M1230.65 160.28V232.49M1238.9 157.37V227.58M1247.14 156.36V224.57M1255.39 154.96V221.16M1263.63 153.92V218.12M1271.88 152.91V215.11M1280.12 152.24V212.43M1288.37 152.08V210.26M1296.62 152.02V208.2M1304.86 150.49V204.66M1313.11 148.59V200.76M1321.35 146.95V198.49M1329.6 146.26V197.3M1337.84 144.77V195.3M1346.09 143.47V193.5M1354.33 142.44V191.98M1362.57 140.88V189.92M1370.82 139.22V187.76M1379.07 138.15V186.18M1387.31 136.91V184.44M1395.55 135.36V182.39M1403.8 134.37V180.9M1412.05 132.93V178.96M1420.29 131.39V177.26M1428.53 130.13V175.85M1436.78 129.18V174.76M1445.03 126.57V172.01M1453.27 126.52V171.81M1461.51 125.51V170.66M1469.76 123.89V168.9M1478.01 123.89V168.76M1486.25 122.81V167.53M1494.49 121.09V165.66M1502.74 119.54V163.98M1510.99 118.69V162.98M1519.23 117.29V161.43M1527.47 116.4V160.4" stroke="#2ee02e" stroke-width="1.3" fill="none"/><polyline points="721.6,492.35 736.73,487.34 744.2,489.85 752.45,486.67 760.69,476.96 768.94,466.12 777.18,457.64 785.43,450.07 793.67,442.53 801.92,436.61 810.16,430.75 818.41,425.7 826.65,419.87 834.89,415.64 843.14,411.45 851.38,406.45 859.63,402.25 867.88,397.24 876.12,392.22 884.37,387.19 892.61,382.54 900.86,377.15 909.1,371.52 917.35,366.47 925.59,361.06 933.84,356.19 942.08,349.79 950.33,344.71 958.57,339.49 966.82,334.84 975.06,328.84 983.31,323.4 991.55,317.94 999.8,311.52 1008.04,306.22 1016.29,300.37 1024.53,294.94 1032.78,288.9 1041.02,284.01 1049.27,279 1057.51,272.74 1065.76,269.53 1074,264.37 1082.24,259.72 1090.49,254.34 1098.74,250.46 1106.98,247.08 1115.22,242.16 1123.47,238.58 1131.72,235.23 1139.96,231.22 1148.2,227.04 1156.45,224.53 1164.69,220.35 1172.94,217.08 1181.18,213.61 1189.43,210.96 1197.67,208.54 1205.92,206.04 1214.16,202.96 1222.41,199.51 1230.65,196.39 1238.9,192.48 1247.14,190.46 1255.39,188.06 1263.63,186.02 1271.88,184.01 1280.12,182.34 1288.37,181.17 1296.62,180.11 1304.86,177.57 1313.11,174.68 1321.35,172.72 1329.6,171.78 1337.84,170.04 1346.09,168.49 1354.33,167.21 1362.57,165.4 1370.82,163.49 1379.07,162.17 1387.31,160.67 1395.55,158.88 1403.8,157.63 1412.05,155.94 1420.29,154.32 1428.53,152.99 1436.78,151.97 1445.03,149.29 1453.27,149.17 1461.51,148.09 1469.76,146.39 1478.01,146.33 1486.25,145.17 1494.49,143.38 1502.74,141.76 1510.99,140.84 1519.23,139.36 1527.47,138.4" fill="none" stroke="#00e000" stroke-width="1.2"/><path d="M744.2 500.21V506.21M743.2 500.21h2 M743.2 506.21h2M752.45 498.52V504.58M751.45 498.52h2 M751.45 504.58h2M760.69 493.7V499.81M759.69 493.7h2 M759.69 499.81h2M768.94 490.7V496.87M767.94 490.7h2 M767.94 496.87h2M777.18 487.69V493.92M776.18 487.69h2 M776.18 493.92h2M785.43 485.13V491.42M784.43 485.13h2 M784.43 491.42h2M793.67 482.59V488.94M792.67 482.59h2 M792.67 488.94h2M801.92 480.05V486.46M800.92 480.05h2 M800.92 486.46h2M810.16 478.72V485.19M809.16 478.72h2 M809.16 485.19h2M818.41 477.44V483.96M817.41 477.44h2 M817.41 483.96h2M826.65 475.75V482.33M825.65 475.75h2 M825.65 482.33h2M834.89 474.04V480.68M833.89 474.04h2 M833.89 480.68h2M843.14 473.16V479.85M842.14 473.16h2 M842.14 479.85h2M851.38 472.29V479.04M850.38 472.29h2 M850.38 479.04h2M859.63 471.42V478.24M858.63 471.42h2 M858.63 478.24h2M867.88 470.56V477.43M866.88 470.56h2 M866.88 477.43h2M876.12 469.95V476.88M875.12 469.95h2 M875.12 476.88h2M884.37 469.35V476.34M883.37 469.35h2 M883.37 476.34h2M892.61 468.74V475.79M891.61 468.74h2 M891.61 475.79h2M900.86 468.11V475.24M899.86 468.11h2 M899.86 475.24h2M909.1 467.49V474.69M908.1 467.49h2 M908.1 474.69h2M917.35 466.87V474.14M916.35 466.87h2 M916.35 474.14h2M925.59 466.11V473.45M924.59 466.11h2 M924.59 473.45h2M933.84 465.32V472.73M932.84 465.32h2 M932.84 472.73h2M942.08 464.52V472.01M941.08 464.52h2 M941.08 472.01h2M950.33 463.73V471.29M949.33 463.73h2 M949.33 471.29h2M958.57 462.93V470.56M957.57 462.93h2 M957.57 470.56h2M966.82 462.14V469.84M965.82 462.14h2 M965.82 469.84h2M975.06 461.35V469.12M974.06 461.35h2 M974.06 469.12h2M983.31 460.55V468.4M982.31 460.55h2 M982.31 468.4h2M991.55 459.76V467.67M990.55 459.76h2 M990.55 467.67h2M999.8 459.08V467.06M998.8 459.08h2 M998.8 467.06h2M1008.04 458.8V466.86M1007.04 458.8h2 M1007.04 466.86h2M1016.29 458.52V466.65M1015.29 458.52h2 M1015.29 466.65h2M1024.53 457.88V466.09M1023.53 457.88h2 M1023.53 466.09h2M1032.78 457.18V465.45M1031.78 457.18h2 M1031.78 465.45h2M1041.02 456.47V464.82M1040.02 456.47h2 M1040.02 464.82h2M1049.27 455.77V464.19M1048.27 455.77h2 M1048.27 464.19h2M1057.51 455.06V463.55M1056.51 455.06h2 M1056.51 463.55h2M1065.76 454.36V462.92M1064.76 454.36h2 M1064.76 462.92h2M1074 453.65V462.28M1073 453.65h2 M1073 462.28h2M1082.24 452.95V461.65M1081.24 452.95h2 M1081.24 461.65h2M1090.49 452.24V461.02M1089.49 452.24h2 M1089.49 461.02h2M1098.74 451.54V460.38M1097.74 451.54h2 M1097.74 460.38h2M1106.98 450.83V459.75M1105.98 450.83h2 M1105.98 459.75h2M1115.22 450.13V459.11M1114.22 450.13h2 M1114.22 459.11h2M1123.47 449.44V458.52M1122.47 449.44h2 M1122.47 458.52h2M1131.72 448.77V457.92M1130.72 448.77h2 M1130.72 457.92h2M1139.96 448.09V457.33M1138.96 448.09h2 M1138.96 457.33h2M1148.2 447.41V456.74M1147.2 447.41h2 M1147.2 456.74h2M1156.45 446.74V456.14M1155.45 446.74h2 M1155.45 456.14h2M1164.69 446.06V455.55M1163.69 446.06h2 M1163.69 455.55h2M1172.94 445.39V454.96M1171.94 445.39h2 M1171.94 454.96h2M1181.18 444.71V454.37M1180.18 444.71h2 M1180.18 454.37h2M1189.43 444.03V453.77M1188.43 444.03h2 M1188.43 453.77h2M1197.67 443.36V453.18M1196.67 443.36h2 M1196.67 453.18h2M1205.92 442.68V452.59M1204.92 442.68h2 M1204.92 452.59h2M1214.16 442V451.99M1213.16 442h2 M1213.16 451.99h2M1222.41 441.07V451.15M1221.41 441.07h2 M1221.41 451.15h2M1230.65 440.11V450.27M1229.65 440.11h2 M1229.65 450.27h2M1238.9 439.15V449.39M1237.9 439.15h2 M1237.9 449.39h2M1247.14 438.19V448.51M1246.14 438.19h2 M1246.14 448.51h2M1255.39 437.22V447.63M1254.39 437.22h2 M1254.39 447.63h2M1263.63 436.26V446.75M1262.63 436.26h2 M1262.63 446.75h2M1271.88 435.3V445.87M1270.88 435.3h2 M1270.88 445.87h2M1280.12 434.34V444.99M1279.12 434.34h2 M1279.12 444.99h2M1288.37 433.37V444.11M1287.37 433.37h2 M1287.37 444.11h2M1296.62 432.41V443.24M1295.62 432.41h2 M1295.62 443.24h2M1304.86 431.45V442.36M1303.86 431.45h2 M1303.86 442.36h2M1313.11 430.49V441.48M1312.11 430.49h2 M1312.11 441.48h2M1321.35 429.39V440.5M1320.35 429.39h2 M1320.35 440.5h2M1329.6 428.29V439.51M1328.6 428.29h2 M1328.6 439.51h2M1337.84 427.18V438.52M1336.84 427.18h2 M1336.84 438.52h2M1346.09 426.08V437.53M1345.09 426.08h2 M1345.09 437.53h2M1354.33 424.98V436.55M1353.33 424.98h2 M1353.33 436.55h2M1362.57 423.87V435.56M1361.57 423.87h2 M1361.57 435.56h2M1370.82 422.77V434.57M1369.82 422.77h2 M1369.82 434.57h2M1379.07 421.66V433.58M1378.07 421.66h2 M1378.07 433.58h2M1387.31 420.56V432.59M1386.31 420.56h2 M1386.31 432.59h2M1395.55 419.46V431.6M1394.55 419.46h2 M1394.55 431.6h2M1403.8 418.35V430.61M1402.8 418.35h2 M1402.8 430.61h2M1412.05 417.25V429.63M1411.05 417.25h2 M1411.05 429.63h2M1420.29 416.03V428.52M1419.29 416.03h2 M1419.29 428.52h2M1428.53 414.8V427.41M1427.53 414.8h2 M1427.53 427.41h2M1436.78 413.57V426.29M1435.78 413.57h2 M1435.78 426.29h2M1445.03 412.34V425.18M1444.03 412.34h2 M1444.03 425.18h2M1453.27 411.11V424.07M1452.27 411.11h2 M1452.27 424.07h2M1461.51 409.88V422.95M1460.51 409.88h2 M1460.51 422.95h2M1469.76 408.65V421.84M1468.76 408.65h2 M1468.76 421.84h2M1478.01 407.42V420.73M1477.01 407.42h2 M1477.01 420.73h2M1486.25 406.19V419.61M1485.25 406.19h2 M1485.25 419.61h2M1494.49 404.96V418.5M1493.49 404.96h2 M1493.49 418.5h2M1502.74 403.74V417.39M1501.74 403.74h2 M1501.74 417.39h2M1510.99 402.51V416.27M1509.99 402.51h2 M1509.99 416.27h2M1519.23 401.28V415.16M1518.23 401.28h2 M1518.23 415.16h2M1527.47 400.05V414.05M1526.47 400.05h2 M1526.47 414.05h2" stroke="#f01818" stroke-width="1.6" fill="none"/><polyline points="721.6,492.35 736.73,500.7 744.2,503.21 752.45,501.55 760.69,496.75 768.94,493.78 777.18,490.81 785.43,488.28 793.67,485.76 801.92,483.25 810.16,481.95 818.41,480.7 826.65,479.04 834.89,477.36 843.14,476.5 851.38,475.67 859.63,474.83 867.88,473.99 876.12,473.42 884.37,472.85 892.61,472.26 900.86,471.68 909.1,471.09 917.35,470.51 925.59,469.78 933.84,469.02 942.08,468.27 950.33,467.51 958.57,466.75 966.82,465.99 975.06,465.23 983.31,464.47 991.55,463.71 999.8,463.07 1008.04,462.83 1016.29,462.58 1024.53,461.99 1032.78,461.32 1041.02,460.65 1049.27,459.98 1057.51,459.31 1065.76,458.64 1074,457.97 1082.24,457.3 1090.49,456.63 1098.74,455.96 1106.98,455.29 1115.22,454.62 1123.47,453.98 1131.72,453.35 1139.96,452.71 1148.2,452.08 1156.45,451.44 1164.69,450.81 1172.94,450.17 1181.18,449.54 1189.43,448.9 1197.67,448.27 1205.92,447.63 1214.16,447 1222.41,446.11 1230.65,445.19 1238.9,444.27 1247.14,443.35 1255.39,442.43 1263.63,441.51 1271.88,440.59 1280.12,439.66 1288.37,438.74 1296.62,437.82 1304.86,436.9 1313.11,435.98 1321.35,434.95 1329.6,433.9 1337.84,432.85 1346.09,431.81 1354.33,430.76 1362.57,429.71 1370.82,428.67 1379.07,427.62 1387.31,426.58 1395.55,425.53 1403.8,424.48 1412.05,423.44 1420.29,422.27 1428.53,421.1 1436.78,419.93 1445.03,418.76 1453.27,417.59 1461.51,416.42 1469.76,415.25 1478.01,414.07 1486.25,412.9 1494.49,411.73 1502.74,410.56 1510.99,409.39 1519.23,408.22 1527.47,407.05" fill="none" stroke="#ff1010" stroke-width="1.2"/><path d="M744.2 493.61V518.64M743.2 493.61h2 M743.2 518.64h2M752.45 490.23V517.65M751.45 490.23h2 M751.45 517.65h2M760.69 487.1V514.35M759.69 487.1h2 M759.69 514.35h2M768.94 485.18V511.43M767.94 485.18h2 M767.94 511.43h2M777.18 483.93V507.66M776.18 483.93h2 M776.18 507.66h2M785.43 483.73V504.45M784.43 483.73h2 M784.43 504.45h2M793.67 482.61V501.09M792.67 482.61h2 M792.67 501.09h2M801.92 481.68V498.15M800.92 481.68h2 M800.92 498.15h2M810.16 481.19V495.27M809.16 481.19h2 M809.16 495.27h2M818.41 481.58V493.15M817.41 481.58h2 M817.41 493.15h2M826.65 481.32V491.74M825.65 481.32h2 M825.65 491.74h2M834.89 480.45V490.12M833.89 480.45h2 M833.89 490.12h2M843.14 479.57V488.49M842.14 479.57h2 M842.14 488.49h2M851.38 479.1V487.27M850.38 479.1h2 M850.38 487.27h2M859.63 478.35V486.35M858.63 478.35h2 M858.63 486.35h2M867.88 477.51V485.51M866.88 477.51h2 M866.88 485.51h2M876.12 477.3V485.3M875.12 477.3h2 M875.12 485.3h2M884.37 477.1V485.1M883.37 477.1h2 M883.37 485.1h2M892.61 476.9V484.9M891.61 476.9h2 M891.61 484.9h2M900.86 476.7V484.7M899.86 476.7h2 M899.86 484.7h2M909.1 476.29V484.29M908.1 476.29h2 M908.1 484.29h2M917.35 475.83V483.83M916.35 475.83h2 M916.35 483.83h2M925.59 475.45V483.85M924.59 475.45h2 M924.59 483.85h2M933.84 475.08V483.98M932.84 475.08h2 M932.84 483.98h2M942.08 474.72V484.12M941.08 474.72h2 M941.08 484.12h2M950.33 474.35V484.25M949.33 474.35h2 M949.33 484.25h2M958.57 473.98V484.39M957.57 473.98h2 M957.57 484.39h2M966.82 473.62V484.52M965.82 473.62h2 M965.82 484.52h2M975.06 473.08V484.49M974.06 473.08h2 M974.06 484.49h2M983.31 472.55V484.46M982.31 472.55h2 M982.31 484.46h2M991.55 471.81V484.63M990.55 471.81h2 M990.55 484.63h2M999.8 471.02V484.85M998.8 471.02h2 M998.8 484.85h2M1008.04 470.24V485.06M1007.04 470.24h2 M1007.04 485.06h2M1016.29 469.45V485.28M1015.29 469.45h2 M1015.29 485.28h2M1024.53 468.97V485.46M1023.53 468.97h2 M1023.53 485.46h2M1032.78 468.56V485.63M1031.78 468.56h2 M1031.78 485.63h2M1041.02 468.14V485.79M1040.02 468.14h2 M1040.02 485.79h2M1049.27 467.72V485.96M1048.27 467.72h2 M1048.27 485.96h2M1057.51 467.3V486.13M1056.51 467.3h2 M1056.51 486.13h2M1065.76 466.88V486.29M1064.76 466.88h2 M1064.76 486.29h2M1074 466.47V486.46M1073 466.47h2 M1073 486.46h2M1082.24 466.05V486.63M1081.24 466.05h2 M1081.24 486.63h2M1090.49 465.63V486.79M1089.49 465.63h2 M1089.49 486.79h2M1098.74 465.21V486.96M1097.74 465.21h2 M1097.74 486.96h2M1106.98 464.79V487.13M1105.98 464.79h2 M1105.98 487.13h2M1115.22 464.38V487.29M1114.22 464.38h2 M1114.22 487.29h2M1123.47 464.07V487.42M1122.47 464.07h2 M1122.47 487.42h2M1131.72 463.77V487.55M1130.72 463.77h2 M1130.72 487.55h2M1139.96 463.48V487.67M1138.96 463.48h2 M1138.96 487.67h2M1148.2 463.19V487.8M1147.2 463.19h2 M1147.2 487.8h2M1156.45 462.9V487.92M1155.45 462.9h2 M1155.45 487.92h2M1164.69 462.6V488.05M1163.69 462.6h2 M1163.69 488.05h2M1172.94 462.31V488.18M1171.94 462.31h2 M1171.94 488.18h2M1181.18 462.02V488.3M1180.18 462.02h2 M1180.18 488.3h2M1189.43 461.73V488.43M1188.43 461.73h2 M1188.43 488.43h2M1197.67 461.43V488.55M1196.67 461.43h2 M1196.67 488.55h2M1205.92 461.14V488.68M1204.92 461.14h2 M1204.92 488.68h2M1214.16 460.85V488.8M1213.16 460.85h2 M1213.16 488.8h2M1222.41 460.35V489.03M1221.41 460.35h2 M1221.41 489.03h2M1230.65 459.83V489.28M1229.65 459.83h2 M1229.65 489.28h2M1238.9 459.3V489.52M1237.9 459.3h2 M1237.9 489.52h2M1247.14 458.78V489.77M1246.14 458.78h2 M1246.14 489.77h2M1255.39 458.26V490.01M1254.39 458.26h2 M1254.39 490.01h2M1263.63 457.73V490.26M1262.63 457.73h2 M1262.63 490.26h2M1271.88 457.21V490.5M1270.88 457.21h2 M1270.88 490.5h2M1280.12 456.68V490.75M1279.12 456.68h2 M1279.12 490.75h2M1288.37 456.16V490.99M1287.37 456.16h2 M1287.37 490.99h2M1296.62 455.64V491.23M1295.62 455.64h2 M1295.62 491.23h2M1304.86 455.11V491.48M1303.86 455.11h2 M1303.86 491.48h2M1313.11 454.59V491.72M1312.11 454.59h2 M1312.11 491.72h2M1321.35 454.31V491.72M1320.35 454.31h2 M1320.35 491.72h2M1329.6 454.05V491.7M1328.6 454.05h2 M1328.6 491.7h2M1337.84 453.8V491.68M1336.84 453.8h2 M1336.84 491.68h2M1346.09 453.54V491.66M1345.09 453.54h2 M1345.09 491.66h2M1354.33 453.28V491.63M1353.33 453.28h2 M1353.33 491.63h2M1362.57 453.03V491.61M1361.57 453.03h2 M1361.57 491.61h2M1370.82 452.77V491.59M1369.82 452.77h2 M1369.82 491.59h2M1379.07 452.51V491.57M1378.07 452.51h2 M1378.07 491.57h2M1387.31 452.26V491.54M1386.31 452.26h2 M1386.31 491.54h2M1395.55 452V491.52M1394.55 452h2 M1394.55 491.52h2M1403.8 451.75V491.5M1402.8 451.75h2 M1402.8 491.5h2M1412.05 451.49V491.48M1411.05 451.49h2 M1411.05 491.48h2M1420.29 451.16V491.5M1419.29 451.16h2 M1419.29 491.5h2M1428.53 450.83V491.52M1427.53 450.83h2 M1427.53 491.52h2M1436.78 450.49V491.55M1435.78 450.49h2 M1435.78 491.55h2M1445.03 450.16V491.57M1444.03 450.16h2 M1444.03 491.57h2M1453.27 449.83V491.6M1452.27 449.83h2 M1452.27 491.6h2M1461.51 449.49V491.62M1460.51 449.49h2 M1460.51 491.62h2M1469.76 449.16V491.64M1468.76 449.16h2 M1468.76 491.64h2M1478.01 448.82V491.67M1477.01 448.82h2 M1477.01 491.67h2M1486.25 448.49V491.69M1485.25 448.49h2 M1485.25 491.69h2M1494.49 448.16V491.72M1493.49 448.16h2 M1493.49 491.72h2M1502.74 447.82V491.74M1501.74 447.82h2 M1501.74 491.74h2M1510.99 447.49V491.77M1509.99 447.49h2 M1509.99 491.77h2M1519.23 447.16V491.79M1518.23 447.16h2 M1518.23 491.79h2M1527.47 446.82V491.82M1526.47 446.82h2 M1526.47 491.82h2" stroke="#1818f0" stroke-width="1.6" fill="none"/><polyline points="721.6,492.35 736.73,504.88 744.2,506.13 752.45,503.94 760.69,500.72 768.94,498.3 777.18,495.8 785.43,494.09 793.67,491.85 801.92,489.91 810.16,488.23 818.41,487.37 826.65,486.53 834.89,485.28 843.14,484.03 851.38,483.18 859.63,482.35 867.88,481.51 876.12,481.3 884.37,481.1 892.61,480.9 900.86,480.7 909.1,480.29 917.35,479.83 925.59,479.65 933.84,479.53 942.08,479.42 950.33,479.3 958.57,479.19 966.82,479.07 975.06,478.79 983.31,478.5 991.55,478.22 999.8,477.94 1008.04,477.65 1016.29,477.37 1024.53,477.22 1032.78,477.09 1041.02,476.96 1049.27,476.84 1057.51,476.71 1065.76,476.59 1074,476.46 1082.24,476.34 1090.49,476.21 1098.74,476.09 1106.98,475.96 1115.22,475.83 1123.47,475.75 1131.72,475.66 1139.96,475.58 1148.2,475.49 1156.45,475.41 1164.69,475.33 1172.94,475.24 1181.18,475.16 1189.43,475.08 1197.67,474.99 1205.92,474.91 1214.16,474.82 1222.41,474.69 1230.65,474.55 1238.9,474.41 1247.14,474.27 1255.39,474.13 1263.63,473.99 1271.88,473.85 1280.12,473.71 1288.37,473.58 1296.62,473.44 1304.86,473.3 1313.11,473.16 1321.35,473.02 1329.6,472.88 1337.84,472.74 1346.09,472.6 1354.33,472.46 1362.57,472.32 1370.82,472.18 1379.07,472.04 1387.31,471.9 1395.55,471.76 1403.8,471.62 1412.05,471.48 1420.29,471.33 1428.53,471.17 1436.78,471.02 1445.03,470.87 1453.27,470.71 1461.51,470.56 1469.76,470.4 1478.01,470.25 1486.25,470.09 1494.49,469.94 1502.74,469.78 1510.99,469.63 1519.23,469.47 1527.47,469.32" fill="none" stroke="#1010ff" stroke-width="1.2"/><g fill="#00e400"><circle cx="744.2" cy="489.85" r="2.9"/><circle cx="752.45" cy="486.67" r="2.9"/><circle cx="760.69" cy="476.96" r="2.9"/><circle cx="768.94" cy="466.12" r="2.9"/><circle cx="777.18" cy="457.64" r="2.9"/><circle cx="785.43" cy="450.07" r="2.9"/><circle cx="793.67" cy="442.53" r="2.9"/><circle cx="801.92" cy="436.61" r="2.9"/><circle cx="810.16" cy="430.75" r="2.9"/><circle cx="818.41" cy="425.7" r="2.9"/><circle cx="826.65" cy="419.87" r="2.9"/><circle cx="834.89" cy="415.64" r="2.9"/><circle cx="843.14" cy="411.45" r="2.9"/><circle cx="851.38" cy="406.45" r="2.9"/><circle cx="859.63" cy="402.25" r="2.9"/><circle cx="867.88" cy="397.24" r="2.9"/><circle cx="876.12" cy="392.22" r="2.9"/><circle cx="884.37" cy="387.19" r="2.9"/><circle cx="892.61" cy="382.54" r="2.9"/><circle cx="900.86" cy="377.15" r="2.9"/><circle cx="909.1" cy="371.52" r="2.9"/><circle cx="917.35" cy="366.47" r="2.9"/><circle cx="925.59" cy="361.06" r="2.9"/><circle cx="933.84" cy="356.19" r="2.9"/><circle cx="942.08" cy="349.79" r="2.9"/><circle cx="950.33" cy="344.71" r="2.9"/><circle cx="958.57" cy="339.49" r="2.9"/><circle cx="966.82" cy="334.84" r="2.9"/><circle cx="975.06" cy="328.84" r="2.9"/><circle cx="983.31" cy="323.4" r="2.9"/><circle cx="991.55" cy="317.94" r="2.9"/><circle cx="999.8" cy="311.52" r="2.9"/><circle cx="1008.04" cy="306.22" r="2.9"/><circle cx="1016.29" cy="300.37" r="2.9"/><circle cx="1024.53" cy="294.94" r="2.9"/><circle cx="1032.78" cy="288.9" r="2.9"/><circle cx="1041.02" cy="284.01" r="2.9"/><circle cx="1049.27" cy="279" r="2.9"/><circle cx="1057.51" cy="272.74" r="2.9"/><circle cx="1065.76" cy="269.53" r="2.9"/><circle cx="1074" cy="264.37" r="2.9"/><circle cx="1082.24" cy="259.72" r="2.9"/><circle cx="1090.49" cy="254.34" r="2.9"/><circle cx="1098.74" cy="250.46" r="2.9"/><circle cx="1106.98" cy="247.08" r="2.9"/><circle cx="1115.22" cy="242.16" r="2.9"/><circle cx="1123.47" cy="238.58" r="2.9"/><circle cx="1131.72" cy="235.23" r="2.9"/><circle cx="1139.96" cy="231.22" r="2.9"/><circle cx="1148.2" cy="227.04" r="2.9"/><circle cx="1156.45" cy="224.53" r="2.9"/><circle cx="1164.69" cy="220.35" r="2.9"/><circle cx="1172.94" cy="217.08" r="2.9"/><circle cx="1181.18" cy="213.61" r="2.9"/><circle cx="1189.43" cy="210.96" r="2.9"/><circle cx="1197.67" cy="208.54" r="2.9"/><circle cx="1205.92" cy="206.04" r="2.9"/><circle cx="1214.16" cy="202.96" r="2.9"/><circle cx="1222.41" cy="199.51" r="2.9"/><circle cx="1230.65" cy="196.39" r="2.9"/><circle cx="1238.9" cy="192.48" r="2.9"/><circle cx="1247.14" cy="190.46" r="2.9"/><circle cx="1255.39" cy="188.06" r="2.9"/><circle cx="1263.63" cy="186.02" r="2.9"/><circle cx="1271.88" cy="184.01" r="2.9"/><circle cx="1280.12" cy="182.34" r="2.9"/><circle cx="1288.37" cy="181.17" r="2.9"/><circle cx="1296.62" cy="180.11" r="2.9"/><circle cx="1304.86" cy="177.57" r="2.9"/><circle cx="1313.11" cy="174.68" r="2.9"/><circle cx="1321.35" cy="172.72" r="2.9"/><circle cx="1329.6" cy="171.78" r="2.9"/><circle cx="1337.84" cy="170.04" r="2.9"/><circle cx="1346.09" cy="168.49" r="2.9"/><circle cx="1354.33" cy="167.21" r="2.9"/><circle cx="1362.57" cy="165.4" r="2.9"/><circle cx="1370.82" cy="163.49" r="2.9"/><circle cx="1379.07" cy="162.17" r="2.9"/><circle cx="1387.31" cy="160.67" r="2.9"/><circle cx="1395.55" cy="158.88" r="2.9"/><circle cx="1403.8" cy="157.63" r="2.9"/><circle cx="1412.05" cy="155.94" r="2.9"/><circle cx="1420.29" cy="154.32" r="2.9"/><circle cx="1428.53" cy="152.99" r="2.9"/><circle cx="1436.78" cy="151.97" r="2.9"/><circle cx="1445.03" cy="149.29" r="2.9"/><circle cx="1453.27" cy="149.17" r="2.9"/><circle cx="1461.51" cy="148.09" r="2.9"/><circle cx="1469.76" cy="146.39" r="2.9"/><circle cx="1478.01" cy="146.33" r="2.9"/><circle cx="1486.25" cy="145.17" r="2.9"/><circle cx="1494.49" cy="143.38" r="2.9"/><circle cx="1502.74" cy="141.76" r="2.9"/><circle cx="1510.99" cy="140.84" r="2.9"/><circle cx="1519.23" cy="139.36" r="2.9"/><circle cx="1527.47" cy="138.4" r="2.9"/></g><path d="M741.2 503.21l3 -2.6l3 2.6l-3 2.6zM749.45 501.55l3 -2.6l3 2.6l-3 2.6zM757.69 496.75l3 -2.6l3 2.6l-3 2.6zM765.94 493.78l3 -2.6l3 2.6l-3 2.6zM774.18 490.81l3 -2.6l3 2.6l-3 2.6zM782.43 488.28l3 -2.6l3 2.6l-3 2.6zM790.67 485.76l3 -2.6l3 2.6l-3 2.6zM798.92 483.25l3 -2.6l3 2.6l-3 2.6zM807.16 481.95l3 -2.6l3 2.6l-3 2.6zM815.41 480.7l3 -2.6l3 2.6l-3 2.6zM823.65 479.04l3 -2.6l3 2.6l-3 2.6zM831.89 477.36l3 -2.6l3 2.6l-3 2.6zM840.14 476.5l3 -2.6l3 2.6l-3 2.6zM848.38 475.67l3 -2.6l3 2.6l-3 2.6zM856.63 474.83l3 -2.6l3 2.6l-3 2.6zM864.88 473.99l3 -2.6l3 2.6l-3 2.6zM873.12 473.42l3 -2.6l3 2.6l-3 2.6zM881.37 472.85l3 -2.6l3 2.6l-3 2.6zM889.61 472.26l3 -2.6l3 2.6l-3 2.6zM897.86 471.68l3 -2.6l3 2.6l-3 2.6zM906.1 471.09l3 -2.6l3 2.6l-3 2.6zM914.35 470.51l3 -2.6l3 2.6l-3 2.6zM922.59 469.78l3 -2.6l3 2.6l-3 2.6zM930.84 469.02l3 -2.6l3 2.6l-3 2.6zM939.08 468.27l3 -2.6l3 2.6l-3 2.6zM947.33 467.51l3 -2.6l3 2.6l-3 2.6zM955.57 466.75l3 -2.6l3 2.6l-3 2.6zM963.82 465.99l3 -2.6l3 2.6l-3 2.6zM972.06 465.23l3 -2.6l3 2.6l-3 2.6zM980.31 464.47l3 -2.6l3 2.6l-3 2.6zM988.55 463.71l3 -2.6l3 2.6l-3 2.6zM996.8 463.07l3 -2.6l3 2.6l-3 2.6zM1005.04 462.83l3 -2.6l3 2.6l-3 2.6zM1013.29 462.58l3 -2.6l3 2.6l-3 2.6zM1021.53 461.99l3 -2.6l3 2.6l-3 2.6zM1029.78 461.32l3 -2.6l3 2.6l-3 2.6zM1038.02 460.65l3 -2.6l3 2.6l-3 2.6zM1046.27 459.98l3 -2.6l3 2.6l-3 2.6zM1054.51 459.31l3 -2.6l3 2.6l-3 2.6zM1062.76 458.64l3 -2.6l3 2.6l-3 2.6zM1071 457.97l3 -2.6l3 2.6l-3 2.6zM1079.24 457.3l3 -2.6l3 2.6l-3 2.6zM1087.49 456.63l3 -2.6l3 2.6l-3 2.6zM1095.74 455.96l3 -2.6l3 2.6l-3 2.6zM1103.98 455.29l3 -2.6l3 2.6l-3 2.6zM1112.22 454.62l3 -2.6l3 2.6l-3 2.6zM1120.47 453.98l3 -2.6l3 2.6l-3 2.6zM1128.72 453.35l3 -2.6l3 2.6l-3 2.6zM1136.96 452.71l3 -2.6l3 2.6l-3 2.6zM1145.2 452.08l3 -2.6l3 2.6l-3 2.6zM1153.45 451.44l3 -2.6l3 2.6l-3 2.6zM1161.69 450.81l3 -2.6l3 2.6l-3 2.6zM1169.94 450.17l3 -2.6l3 2.6l-3 2.6zM1178.18 449.54l3 -2.6l3 2.6l-3 2.6zM1186.43 448.9l3 -2.6l3 2.6l-3 2.6zM1194.67 448.27l3 -2.6l3 2.6l-3 2.6zM1202.92 447.63l3 -2.6l3 2.6l-3 2.6zM1211.16 447l3 -2.6l3 2.6l-3 2.6zM1219.41 446.11l3 -2.6l3 2.6l-3 2.6zM1227.65 445.19l3 -2.6l3 2.6l-3 2.6zM1235.9 444.27l3 -2.6l3 2.6l-3 2.6zM1244.14 443.35l3 -2.6l3 2.6l-3 2.6zM1252.39 442.43l3 -2.6l3 2.6l-3 2.6zM1260.63 441.51l3 -2.6l3 2.6l-3 2.6zM1268.88 440.59l3 -2.6l3 2.6l-3 2.6zM1277.12 439.66l3 -2.6l3 2.6l-3 2.6zM1285.37 438.74l3 -2.6l3 2.6l-3 2.6zM1293.62 437.82l3 -2.6l3 2.6l-3 2.6zM1301.86 436.9l3 -2.6l3 2.6l-3 2.6zM1310.11 435.98l3 -2.6l3 2.6l-3 2.6zM1318.35 434.95l3 -2.6l3 2.6l-3 2.6zM1326.6 433.9l3 -2.6l3 2.6l-3 2.6zM1334.84 432.85l3 -2.6l3 2.6l-3 2.6zM1343.09 431.81l3 -2.6l3 2.6l-3 2.6zM1351.33 430.76l3 -2.6l3 2.6l-3 2.6zM1359.57 429.71l3 -2.6l3 2.6l-3 2.6zM1367.82 428.67l3 -2.6l3 2.6l-3 2.6zM1376.07 427.62l3 -2.6l3 2.6l-3 2.6zM1384.31 426.58l3 -2.6l3 2.6l-3 2.6zM1392.55 425.53l3 -2.6l3 2.6l-3 2.6zM1400.8 424.48l3 -2.6l3 2.6l-3 2.6zM1409.05 423.44l3 -2.6l3 2.6l-3 2.6zM1417.29 422.27l3 -2.6l3 2.6l-3 2.6zM1425.53 421.1l3 -2.6l3 2.6l-3 2.6zM1433.78 419.93l3 -2.6l3 2.6l-3 2.6zM1442.03 418.76l3 -2.6l3 2.6l-3 2.6zM1450.27 417.59l3 -2.6l3 2.6l-3 2.6zM1458.51 416.42l3 -2.6l3 2.6l-3 2.6zM1466.76 415.25l3 -2.6l3 2.6l-3 2.6zM1475.01 414.07l3 -2.6l3 2.6l-3 2.6zM1483.25 412.9l3 -2.6l3 2.6l-3 2.6zM1491.49 411.73l3 -2.6l3 2.6l-3 2.6zM1499.74 410.56l3 -2.6l3 2.6l-3 2.6zM1507.99 409.39l3 -2.6l3 2.6l-3 2.6zM1516.23 408.22l3 -2.6l3 2.6l-3 2.6zM1524.47 407.05l3 -2.6l3 2.6l-3 2.6z" fill="#ff0000"/><path d="M741.2 506.13l3 -2.4l3 2.4l-3 2.4zM749.45 503.94l3 -2.4l3 2.4l-3 2.4zM757.69 500.72l3 -2.4l3 2.4l-3 2.4zM765.94 498.3l3 -2.4l3 2.4l-3 2.4zM774.18 495.8l3 -2.4l3 2.4l-3 2.4zM782.43 494.09l3 -2.4l3 2.4l-3 2.4zM790.67 491.85l3 -2.4l3 2.4l-3 2.4zM798.92 489.91l3 -2.4l3 2.4l-3 2.4zM807.16 488.23l3 -2.4l3 2.4l-3 2.4zM815.41 487.37l3 -2.4l3 2.4l-3 2.4zM823.65 486.53l3 -2.4l3 2.4l-3 2.4zM831.89 485.28l3 -2.4l3 2.4l-3 2.4zM840.14 484.03l3 -2.4l3 2.4l-3 2.4zM848.38 483.18l3 -2.4l3 2.4l-3 2.4zM856.63 482.35l3 -2.4l3 2.4l-3 2.4zM864.88 481.51l3 -2.4l3 2.4l-3 2.4zM873.12 481.3l3 -2.4l3 2.4l-3 2.4zM881.37 481.1l3 -2.4l3 2.4l-3 2.4zM889.61 480.9l3 -2.4l3 2.4l-3 2.4zM897.86 480.7l3 -2.4l3 2.4l-3 2.4zM906.1 480.29l3 -2.4l3 2.4l-3 2.4zM914.35 479.83l3 -2.4l3 2.4l-3 2.4zM922.59 479.65l3 -2.4l3 2.4l-3 2.4zM930.84 479.53l3 -2.4l3 2.4l-3 2.4zM939.08 479.42l3 -2.4l3 2.4l-3 2.4zM947.33 479.3l3 -2.4l3 2.4l-3 2.4zM955.57 479.19l3 -2.4l3 2.4l-3 2.4zM963.82 479.07l3 -2.4l3 2.4l-3 2.4zM972.06 478.79l3 -2.4l3 2.4l-3 2.4zM980.31 478.5l3 -2.4l3 2.4l-3 2.4zM988.55 478.22l3 -2.4l3 2.4l-3 2.4zM996.8 477.94l3 -2.4l3 2.4l-3 2.4zM1005.04 477.65l3 -2.4l3 2.4l-3 2.4zM1013.29 477.37l3 -2.4l3 2.4l-3 2.4zM1021.53 477.22l3 -2.4l3 2.4l-3 2.4zM1029.78 477.09l3 -2.4l3 2.4l-3 2.4zM1038.02 476.96l3 -2.4l3 2.4l-3 2.4zM1046.27 476.84l3 -2.4l3 2.4l-3 2.4zM1054.51 476.71l3 -2.4l3 2.4l-3 2.4zM1062.76 476.59l3 -2.4l3 2.4l-3 2.4zM1071 476.46l3 -2.4l3 2.4l-3 2.4zM1079.24 476.34l3 -2.4l3 2.4l-3 2.4zM1087.49 476.21l3 -2.4l3 2.4l-3 2.4zM1095.74 476.09l3 -2.4l3 2.4l-3 2.4zM1103.98 475.96l3 -2.4l3 2.4l-3 2.4zM1112.22 475.83l3 -2.4l3 2.4l-3 2.4zM1120.47 475.75l3 -2.4l3 2.4l-3 2.4zM1128.72 475.66l3 -2.4l3 2.4l-3 2.4zM1136.96 475.58l3 -2.4l3 2.4l-3 2.4zM1145.2 475.49l3 -2.4l3 2.4l-3 2.4zM1153.45 475.41l3 -2.4l3 2.4l-3 2.4zM1161.69 475.33l3 -2.4l3 2.4l-3 2.4zM1169.94 475.24l3 -2.4l3 2.4l-3 2.4zM1178.18 475.16l3 -2.4l3 2.4l-3 2.4zM1186.43 475.08l3 -2.4l3 2.4l-3 2.4zM1194.67 474.99l3 -2.4l3 2.4l-3 2.4zM1202.92 474.91l3 -2.4l3 2.4l-3 2.4zM1211.16 474.82l3 -2.4l3 2.4l-3 2.4zM1219.41 474.69l3 -2.4l3 2.4l-3 2.4zM1227.65 474.55l3 -2.4l3 2.4l-3 2.4zM1235.9 474.41l3 -2.4l3 2.4l-3 2.4zM1244.14 474.27l3 -2.4l3 2.4l-3 2.4zM1252.39 474.13l3 -2.4l3 2.4l-3 2.4zM1260.63 473.99l3 -2.4l3 2.4l-3 2.4zM1268.88 473.85l3 -2.4l3 2.4l-3 2.4zM1277.12 473.71l3 -2.4l3 2.4l-3 2.4zM1285.37 473.58l3 -2.4l3 2.4l-3 2.4zM1293.62 473.44l3 -2.4l3 2.4l-3 2.4zM1301.86 473.3l3 -2.4l3 2.4l-3 2.4zM1310.11 473.16l3 -2.4l3 2.4l-3 2.4zM1318.35 473.02l3 -2.4l3 2.4l-3 2.4zM1326.6 472.88l3 -2.4l3 2.4l-3 2.4zM1334.84 472.74l3 -2.4l3 2.4l-3 2.4zM1343.09 472.6l3 -2.4l3 2.4l-3 2.4zM1351.33 472.46l3 -2.4l3 2.4l-3 2.4zM1359.57 472.32l3 -2.4l3 2.4l-3 2.4zM1367.82 472.18l3 -2.4l3 2.4l-3 2.4zM1376.07 472.04l3 -2.4l3 2.4l-3 2.4zM1384.31 471.9l3 -2.4l3 2.4l-3 2.4zM1392.55 471.76l3 -2.4l3 2.4l-3 2.4zM1400.8 471.62l3 -2.4l3 2.4l-3 2.4zM1409.05 471.48l3 -2.4l3 2.4l-3 2.4zM1417.29 471.33l3 -2.4l3 2.4l-3 2.4zM1425.53 471.17l3 -2.4l3 2.4l-3 2.4zM1433.78 471.02l3 -2.4l3 2.4l-3 2.4zM1442.03 470.87l3 -2.4l3 2.4l-3 2.4zM1450.27 470.71l3 -2.4l3 2.4l-3 2.4zM1458.51 470.56l3 -2.4l3 2.4l-3 2.4zM1466.76 470.4l3 -2.4l3 2.4l-3 2.4zM1475.01 470.25l3 -2.4l3 2.4l-3 2.4zM1483.25 470.09l3 -2.4l3 2.4l-3 2.4zM1491.49 469.94l3 -2.4l3 2.4l-3 2.4zM1499.74 469.78l3 -2.4l3 2.4l-3 2.4zM1507.99 469.63l3 -2.4l3 2.4l-3 2.4zM1516.23 469.47l3 -2.4l3 2.4l-3 2.4zM1524.47 469.32l3 -2.4l3 2.4l-3 2.4z" fill="#0000f0"/><rect x="732.73" y="484.14" width="8" height="6.5" fill="none" stroke="#22dd22" stroke-width="1.3"/><path d="M733.23 500.7l3.5 -3.5l3.5 3.5l-3.5 3.5z" fill="none" stroke="#ee2222" stroke-width="1.1"/><path d="M733.23 504.88l3.5 -3.5l3.5 3.5l-3.5 3.5z" fill="none" stroke="#2222ee" stroke-width="1.1"/><circle cx="721.6" cy="492.35" r="2.8" fill="#0000c0"/><line x1="110.5" y1="654.6" x2="110.5" y2="1053" stroke="#1e1e1e" stroke-width="1.4"/><line x1="104.3" y1="1052.3" x2="664.8" y2="1052.3" stroke="#1e1e1e" stroke-width="1.4"/><line x1="104.3" y1="1052.3" x2="110.5" y2="1052.3" stroke="#1e1e1e" stroke-width="1.3"/><line x1="104.3" y1="976.3" x2="110.5" y2="976.3" stroke="#1e1e1e" stroke-width="1.3"/><line x1="104.3" y1="900.3" x2="110.5" y2="900.3" stroke="#1e1e1e" stroke-width="1.3"/><line x1="104.3" y1="824.3" x2="110.5" y2="824.3" stroke="#1e1e1e" stroke-width="1.3"/><line x1="104.3" y1="748.3" x2="110.5" y2="748.3" stroke="#1e1e1e" stroke-width="1.3"/><line x1="104.3" y1="672.3" x2="110.5" y2="672.3" stroke="#1e1e1e" stroke-width="1.3"/><line x1="164.15" y1="1051.16" x2="164.15" y2="1050.21" stroke="#1e1e1e" stroke-width="1.2"/><line x1="158.65" y1="1050.21" x2="169.65" y2="1050.21" stroke="#1e1e1e" stroke-width="1.4"/><rect x="146.9" y="1051.16" width="34.5" height="1.14" fill="#606060" stroke="#1e1e1e" stroke-width="1.3"/><line x1="220.25" y1="1050.02" x2="220.25" y2="1047.74" stroke="#1e1e1e" stroke-width="1.2"/><line x1="214.75" y1="1047.74" x2="225.75" y2="1047.74" stroke="#1e1e1e" stroke-width="1.4"/><rect x="203" y="1050.02" width="34.5" height="2.28" fill="url(#pC_hd)" stroke="#1e1e1e" stroke-width="1.3"/><line x1="276.55" y1="1051.16" x2="276.55" y2="1050.21" stroke="#1e1e1e" stroke-width="1.2"/><line x1="271.05" y1="1050.21" x2="282.05" y2="1050.21" stroke="#1e1e1e" stroke-width="1.4"/><rect x="259.3" y="1051.16" width="34.5" height="1.14" fill="url(#pC_xd)" stroke="#1e1e1e" stroke-width="1.3"/><rect x="314.3" y="672.3" width="34.5" height="380" fill="#e0e0e0" stroke="#1e1e1e" stroke-width="1.3"/><line x1="387.85" y1="673.44" x2="387.85" y2="672.68" stroke="#1e1e1e" stroke-width="1.2"/><line x1="382.35" y1="672.68" x2="393.35" y2="672.68" stroke="#1e1e1e" stroke-width="1.4"/><rect x="370.6" y="673.44" width="34.5" height="378.86" fill="url(#pC_hl)" stroke="#1e1e1e" stroke-width="1.3"/><rect x="426.7" y="672.3" width="34.5" height="380" fill="url(#pC_xl)" stroke="#1e1e1e" stroke-width="1.3"/><line x1="499.65" y1="961.86" x2="499.65" y2="955.59" stroke="#1e1e1e" stroke-width="1.2"/><line x1="494.15" y1="955.59" x2="505.15" y2="955.59" stroke="#1e1e1e" stroke-width="1.4"/><rect x="482.4" y="961.86" width="34.5" height="90.44" fill="#606060" stroke="#1e1e1e" stroke-width="1.3"/><line x1="555.85" y1="1025.32" x2="555.85" y2="1017.34" stroke="#1e1e1e" stroke-width="1.2"/><line x1="550.35" y1="1017.34" x2="561.35" y2="1017.34" stroke="#1e1e1e" stroke-width="1.4"/><rect x="538.6" y="1025.32" width="34.5" height="26.98" fill="url(#pC_hd)" stroke="#1e1e1e" stroke-width="1.3"/><line x1="612.15" y1="792" x2="612.15" y2="776.8" stroke="#1e1e1e" stroke-width="1.2"/><line x1="606.65" y1="776.8" x2="617.65" y2="776.8" stroke="#1e1e1e" stroke-width="1.4"/><rect x="594.9" y="792" width="34.5" height="260.3" fill="url(#pC_xd)" stroke="#1e1e1e" stroke-width="1.3"/><line x1="147.3" y1="1087.5" x2="284.7" y2="1087.5" stroke="#1e1e1e" stroke-width="1.4"/><line x1="317.9" y1="1087.4" x2="454.2" y2="1087.4" stroke="#1e1e1e" stroke-width="1.4"/><line x1="485.1" y1="1087.2" x2="622.5" y2="1087.2" stroke="#1e1e1e" stroke-width="1.4"/><line x1="857.6" y1="652.2" x2="857.6" y2="1051.4" stroke="#1e1e1e" stroke-width="1.4"/><line x1="851.4" y1="1050.7" x2="1414" y2="1050.7" stroke="#1e1e1e" stroke-width="1.4"/><line x1="851.4" y1="1050.7" x2="857.6" y2="1050.7" stroke="#1e1e1e" stroke-width="1.3"/><line x1="851.4" y1="978.1" x2="857.6" y2="978.1" stroke="#1e1e1e" stroke-width="1.3"/><line x1="851.4" y1="905.5" x2="857.6" y2="905.5" stroke="#1e1e1e" stroke-width="1.3"/><line x1="851.4" y1="832.9" x2="857.6" y2="832.9" stroke="#1e1e1e" stroke-width="1.3"/><line x1="851.4" y1="760.3" x2="857.6" y2="760.3" stroke="#1e1e1e" stroke-width="1.3"/><line x1="851.4" y1="687.7" x2="857.6" y2="687.7" stroke="#1e1e1e" stroke-width="1.3"/><rect x="899.6" y="687.7" width="51.2" height="363" fill="#a0a0a0" stroke="#1e1e1e" stroke-width="1.4"/><line x1="1009.6" y1="985.36" x2="1009.6" y2="973.38" stroke="#1e1e1e" stroke-width="1.2"/><line x1="1004.2" y1="973.38" x2="1015" y2="973.38" stroke="#1e1e1e" stroke-width="1.4"/><rect x="984" y="985.36" width="51.2" height="65.34" fill="url(#pD_hm)" stroke="#1e1e1e" stroke-width="1.4"/><line x1="1093.6" y1="766.11" x2="1093.6" y2="753.04" stroke="#1e1e1e" stroke-width="1.2"/><line x1="1088.2" y1="753.04" x2="1099" y2="753.04" stroke="#1e1e1e" stroke-width="1.4"/><rect x="1068" y="766.11" width="51.2" height="284.59" fill="url(#pD_xm)" stroke="#1e1e1e" stroke-width="1.4"/><rect x="1152.6" y="687.7" width="51.2" height="363" fill="#e0e0e0" stroke="#1e1e1e" stroke-width="1.4"/><line x1="1262.2" y1="735.62" x2="1262.2" y2="708.75" stroke="#1e1e1e" stroke-width="1.2"/><line x1="1256.8" y1="708.75" x2="1267.6" y2="708.75" stroke="#1e1e1e" stroke-width="1.4"/><rect x="1236.6" y="735.62" width="51.2" height="315.08" fill="url(#pD_hl)" stroke="#1e1e1e" stroke-width="1.4"/><line x1="1347.1" y1="753.4" x2="1347.1" y2="718.92" stroke="#1e1e1e" stroke-width="1.2"/><line x1="1341.7" y1="718.92" x2="1352.5" y2="718.92" stroke="#1e1e1e" stroke-width="1.4"/><rect x="1321.5" y="753.4" width="51.2" height="297.3" fill="url(#pD_xl)" stroke="#1e1e1e" stroke-width="1.4"/><line x1="1203.3" y1="687.7" x2="1203.3" y2="1050.7" stroke="#111" stroke-width="2.2"/><line x1="894.9" y1="1086" x2="1118" y2="1086" stroke="#1e1e1e" stroke-width="1.4"/><line x1="1152.8" y1="1084.9" x2="1377.2" y2="1084.9" stroke="#1e1e1e" stroke-width="1.4"/>
<g font-family='"Liberation Sans", Arial, Helvetica, sans-serif'><text x="3.9" y="38.4" font-size="44.78" textLength="27.48" lengthAdjust="spacingAndGlyphs" fill="#000">A</text><text x="669.27" y="35.7" font-size="42.9" textLength="30.26" lengthAdjust="spacingAndGlyphs" fill="#000">B</text><text x="-0.23" y="673.67" font-size="42.96" textLength="30.8" lengthAdjust="spacingAndGlyphs" fill="#000">C</text><text x="753.2" y="664.7" font-size="43.91" textLength="32.5" lengthAdjust="spacingAndGlyphs" fill="#000">D</text><text x="63.73" y="28.04" font-size="16.34" textLength="23.17" lengthAdjust="spacingAndGlyphs" fill="#1a1a1a">100</text><text x="70.41" y="103.14" font-size="16.34" textLength="16.53" lengthAdjust="spacingAndGlyphs" fill="#1a1a1a">80</text><text x="70.14" y="178.24" font-size="16.34" textLength="17.02" lengthAdjust="spacingAndGlyphs" fill="#1a1a1a">60</text><text x="70.82" y="253.34" font-size="16.34" textLength="15.8" lengthAdjust="spacingAndGlyphs" fill="#1a1a1a">40</text><text x="70.37" y="328.44" font-size="16.34" textLength="16.26" lengthAdjust="spacingAndGlyphs" fill="#1a1a1a">20</text><text x="78.46" y="403.54" font-size="16.34" textLength="8.17" lengthAdjust="spacingAndGlyphs" fill="#1a1a1a">0</text><text x="189.2" y="420.3" font-size="19.71" textLength="26.45" lengthAdjust="spacingAndGlyphs" fill="#1a1a1a">WT</text><text x="350.18" y="419.4" font-size="20.14" textLength="23.48" lengthAdjust="spacingAndGlyphs" fill="#1a1a1a">C8</text><text x="514.26" y="420.3" font-size="19.71" textLength="24.53" lengthAdjust="spacingAndGlyphs" fill="#1a1a1a">D5</text><text x="343.47" y="197.5" font-size="18.09" textLength="31.54" lengthAdjust="spacingAndGlyphs" fill="#1a1a1a">(***)</text><text x="503.95" y="50.5" font-size="18.09" textLength="31.97" lengthAdjust="spacingAndGlyphs" fill="#1a1a1a">(***)</text><text transform="translate(51.5 276.19) rotate(-90)" x="0" y="0" font-size="15.62" textLength="129.51" lengthAdjust="spacingAndGlyphs" fill="#1a1a1a">counted colonies</text><text x="691.38" y="117.89" font-size="11" textLength="16.94" lengthAdjust="spacingAndGlyphs" font-weight="bold" fill="#222">4.5</text><text x="691.25" y="200.49" font-size="10.85" textLength="17.07" lengthAdjust="spacingAndGlyphs" font-weight="bold" fill="#222">3.5</text><text x="691.13" y="284.09" font-size="10.7" textLength="17.19" lengthAdjust="spacingAndGlyphs" font-weight="bold" fill="#222">2.5</text><text x="690.74" y="367.49" font-size="11" textLength="17.59" lengthAdjust="spacingAndGlyphs" font-weight="bold" fill="#222">1.5</text><text x="691.23" y="451.49" font-size="10.56" textLength="17.09" lengthAdjust="spacingAndGlyphs" font-weight="bold" fill="#222">0.5</text><text x="687.33" y="534.6" font-size="10.42" textLength="20.98" lengthAdjust="spacingAndGlyphs" font-weight="bold" fill="#222">-0.5</text><text x="707.63" y="552.99" font-size="10.7" textLength="17.22" lengthAdjust="spacingAndGlyphs" font-weight="bold" fill="#222">0.0</text><text x="806.35" y="552.99" font-size="10.7" textLength="17.09" lengthAdjust="spacingAndGlyphs" font-weight="bold" fill="#222">3.0</text><text x="904.94" y="552.99" font-size="10.7" textLength="16.48" lengthAdjust="spacingAndGlyphs" font-weight="bold" fill="#222">6.0</text><text x="1004.64" y="552.99" font-size="10.7" textLength="16.8" lengthAdjust="spacingAndGlyphs" font-weight="bold" fill="#222">9.0</text><text x="1096.94" y="552.99" font-size="10.7" textLength="24.72" lengthAdjust="spacingAndGlyphs" font-weight="bold" fill="#222">12.0</text><text x="1195.64" y="552.99" font-size="10.7" textLength="24.62" lengthAdjust="spacingAndGlyphs" font-weight="bold" fill="#222">15.0</text><text x="1294.26" y="552.99" font-size="10.7" textLength="24.09" lengthAdjust="spacingAndGlyphs" font-weight="bold" fill="#222">18.0</text><text x="1393.83" y="552.99" font-size="10.7" textLength="23.71" lengthAdjust="spacingAndGlyphs" font-weight="bold" fill="#222">21.0</text><text x="1492.34" y="552.99" font-size="10.7" textLength="23.5" lengthAdjust="spacingAndGlyphs" font-weight="bold" fill="#222">24.0</text><text x="1590.93" y="552.99" font-size="10.7" textLength="23.91" lengthAdjust="spacingAndGlyphs" font-weight="bold" fill="#222">27.0</text><text x="1122.22" y="574.74" font-size="13.62" textLength="90.14" lengthAdjust="spacingAndGlyphs" fill="#111" stroke="#111" stroke-width="0.35">Time (in Hour)</text><text transform="translate(682.5 351.43) rotate(-90)" x="0" y="0" font-size="16.03" textLength="55.95" lengthAdjust="spacingAndGlyphs" fill="#111" stroke="#111" stroke-width="0.25">Cell Index</text><text x="71.57" y="677.63" font-size="16.62" textLength="24.46" lengthAdjust="spacingAndGlyphs" fill="#1a1a1a">100</text><text x="79.69" y="753.63" font-size="16.62" textLength="16.85" lengthAdjust="spacingAndGlyphs" fill="#1a1a1a">80</text><text x="79.53" y="829.63" font-size="16.62" textLength="17.13" lengthAdjust="spacingAndGlyphs" fill="#1a1a1a">60</text><text x="80" y="905.63" font-size="16.62" textLength="16.43" lengthAdjust="spacingAndGlyphs" fill="#1a1a1a">40</text><text x="79.54" y="981.63" font-size="16.62" textLength="16.91" lengthAdjust="spacingAndGlyphs" fill="#1a1a1a">20</text><text x="87.41" y="1057.63" font-size="16.62" textLength="9.08" lengthAdjust="spacingAndGlyphs" fill="#1a1a1a">0</text><text x="149.3" y="1077.69" font-size="20.86" textLength="29.09" lengthAdjust="spacingAndGlyphs" fill="#1a1a1a">WT</text><text x="205.82" y="1076.39" font-size="20.85" textLength="25.09" lengthAdjust="spacingAndGlyphs" fill="#1a1a1a">C8</text><text x="263.55" y="1075.49" font-size="20.86" textLength="26.29" lengthAdjust="spacingAndGlyphs" fill="#1a1a1a">D5</text><text x="318.4" y="1075.89" font-size="20.86" textLength="28.99" lengthAdjust="spacingAndGlyphs" fill="#1a1a1a">WT</text><text x="374.72" y="1075.19" font-size="20.85" textLength="25.09" lengthAdjust="spacingAndGlyphs" fill="#1a1a1a">C8</text><text x="430.94" y="1074.39" font-size="20.86" textLength="26.51" lengthAdjust="spacingAndGlyphs" fill="#1a1a1a">D5</text><text x="484.1" y="1074.09" font-size="20.86" textLength="28.38" lengthAdjust="spacingAndGlyphs" fill="#1a1a1a">WT</text><text x="540.01" y="1073.79" font-size="20.85" textLength="25.2" lengthAdjust="spacingAndGlyphs" fill="#1a1a1a">C8</text><text x="597.1" y="1072.79" font-size="20.86" textLength="25.63" lengthAdjust="spacingAndGlyphs" fill="#1a1a1a">D5</text><text x="192.64" y="1108.19" font-size="20.99" textLength="49.27" lengthAdjust="spacingAndGlyphs" fill="#1a1a1a">CD34</text><text x="359.14" y="1107.59" font-size="20.85" textLength="49.16" lengthAdjust="spacingAndGlyphs" fill="#1a1a1a">CD44</text><text x="524.65" y="1106.89" font-size="20.56" textLength="59.13" lengthAdjust="spacingAndGlyphs" fill="#1a1a1a">CD271</text><text transform="translate(59.8 915.35) rotate(-90)" x="0" y="0" font-size="18.77" textLength="125.3" lengthAdjust="spacingAndGlyphs" fill="#1a1a1a">% positive cells</text><text x="821.42" y="1055.81" font-size="16.87" textLength="22.05" lengthAdjust="spacingAndGlyphs" fill="#1a1a1a">0,0</text><text x="821.42" y="983.21" font-size="16.87" textLength="22.22" lengthAdjust="spacingAndGlyphs" fill="#1a1a1a">0,2</text><text x="821.43" y="910.61" font-size="16.87" textLength="21.88" lengthAdjust="spacingAndGlyphs" fill="#1a1a1a">0,4</text><text x="821.42" y="838.01" font-size="16.87" textLength="22.05" lengthAdjust="spacingAndGlyphs" fill="#1a1a1a">0,6</text><text x="821.42" y="765.41" font-size="16.87" textLength="22.05" lengthAdjust="spacingAndGlyphs" fill="#1a1a1a">0,8</text><text x="820.76" y="692.81" font-size="16.87" textLength="22.74" lengthAdjust="spacingAndGlyphs" fill="#1a1a1a">1,0</text><text x="906.9" y="1072.8" font-size="19.71" textLength="28.99" lengthAdjust="spacingAndGlyphs" fill="#1a1a1a">WT</text><text x="995.29" y="1073.1" font-size="20.42" textLength="25.84" lengthAdjust="spacingAndGlyphs" fill="#1a1a1a">C8</text><text x="1079.54" y="1072.8" font-size="19.71" textLength="26.51" lengthAdjust="spacingAndGlyphs" fill="#1a1a1a">D5</text><text x="1165.4" y="1071.4" font-size="19.71" textLength="27.87" lengthAdjust="spacingAndGlyphs" fill="#1a1a1a">WT</text><text x="1252.32" y="1071.7" font-size="20.42" textLength="25.09" lengthAdjust="spacingAndGlyphs" fill="#1a1a1a">C8</text><text x="1334.64" y="1071.4" font-size="19.71" textLength="26.51" lengthAdjust="spacingAndGlyphs" fill="#1a1a1a">D5</text><text x="979.04" y="1108.31" font-size="19.03" textLength="56.73" lengthAdjust="spacingAndGlyphs" fill="#1a1a1a">SOX-2</text><text x="1243.08" y="1105.38" font-size="18.67" textLength="48.08" lengthAdjust="spacingAndGlyphs" fill="#1a1a1a">c-Myc</text><text x="986.84" y="964.56" font-size="24.47" textLength="44.76" lengthAdjust="spacingAndGlyphs" fill="#1a1a1a">(***)</text><text x="1074.97" y="741.81" font-size="23.3" textLength="36.78" lengthAdjust="spacingAndGlyphs" fill="#1a1a1a">(**)</text><text transform="translate(803.5 953.1) rotate(-90)" x="0" y="0" font-size="16.16" textLength="199.34" lengthAdjust="spacingAndGlyphs" fill="#1a1a1a">relative gene expression</text></g>
</svg>
</body></html>
